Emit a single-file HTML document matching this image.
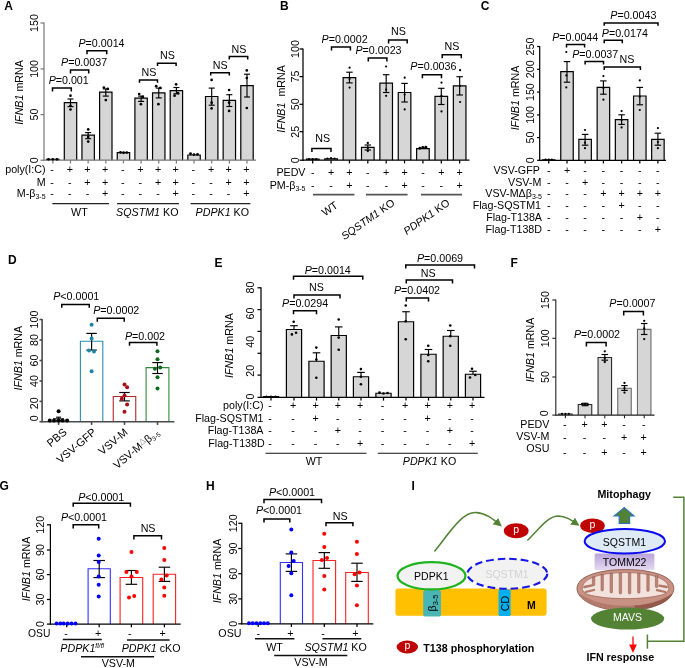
<!DOCTYPE html>
<html><head><meta charset="utf-8"><title>Figure</title>
<style>
html,body{margin:0;padding:0;background:#fff;}
svg{display:block;font-family:"Liberation Sans", Arial, sans-serif;will-change:transform;opacity:0.999;}
</style></head><body>
<svg width="685" height="668" viewBox="0 0 685 668">
<rect x="0" y="0" width="685" height="668" fill="#ffffff"/>
<text x="4.30" y="9.70" font-size="12" text-anchor="start" font-weight="bold" font-style="normal" fill="#000" >A</text>
<path d="M46.65,160.20 V159.40 H59.05 V160.20" fill="#d6d6d6" stroke="#000" stroke-width="1.2"/>
<path d="M64.30,160.20 V102.60 H76.70 V160.20" fill="#d6d6d6" stroke="#000" stroke-width="1.2"/>
<path d="M81.95,160.20 V135.20 H94.35 V160.20" fill="#d6d6d6" stroke="#000" stroke-width="1.2"/>
<path d="M99.60,160.20 V92.10 H112.00 V160.20" fill="#d6d6d6" stroke="#000" stroke-width="1.2"/>
<path d="M117.25,160.20 V152.60 H129.65 V160.20" fill="#d6d6d6" stroke="#000" stroke-width="1.2"/>
<path d="M134.90,160.20 V98.20 H147.30 V160.20" fill="#d6d6d6" stroke="#000" stroke-width="1.2"/>
<path d="M152.55,160.20 V92.80 H164.95 V160.20" fill="#d6d6d6" stroke="#000" stroke-width="1.2"/>
<path d="M170.20,160.20 V90.70 H182.60 V160.20" fill="#d6d6d6" stroke="#000" stroke-width="1.2"/>
<path d="M187.85,160.20 V155.00 H200.25 V160.20" fill="#d6d6d6" stroke="#000" stroke-width="1.2"/>
<path d="M205.50,160.20 V96.50 H217.90 V160.20" fill="#d6d6d6" stroke="#000" stroke-width="1.2"/>
<path d="M223.15,160.20 V100.30 H235.55 V160.20" fill="#d6d6d6" stroke="#000" stroke-width="1.2"/>
<path d="M240.80,160.20 V85.60 H253.20 V160.20" fill="#d6d6d6" stroke="#000" stroke-width="1.2"/>
<line x1="44.00" y1="22.50" x2="44.00" y2="160.70" stroke="#777" stroke-width="1.2" />
<line x1="43.50" y1="160.20" x2="256.00" y2="160.20" stroke="#777" stroke-width="1.2" />
<line x1="40.50" y1="23.00" x2="44.00" y2="23.00" stroke="#777" stroke-width="1.2" />
<text transform="translate(37.60,23.00) rotate(-90)" font-size="10.7" text-anchor="middle">150</text>
<line x1="40.50" y1="68.90" x2="44.00" y2="68.90" stroke="#777" stroke-width="1.2" />
<text transform="translate(37.60,68.90) rotate(-90)" font-size="10.7" text-anchor="middle">100</text>
<line x1="40.50" y1="114.60" x2="44.00" y2="114.60" stroke="#777" stroke-width="1.2" />
<text transform="translate(37.60,114.60) rotate(-90)" font-size="10.7" text-anchor="middle">50</text>
<line x1="40.50" y1="160.20" x2="44.00" y2="160.20" stroke="#777" stroke-width="1.2" />
<text transform="translate(37.60,160.20) rotate(-90)" font-size="10.7" text-anchor="middle">0</text>
<line x1="52.85" y1="160.20" x2="52.85" y2="163.40" stroke="#777" stroke-width="1.2" />
<line x1="70.50" y1="160.20" x2="70.50" y2="163.40" stroke="#777" stroke-width="1.2" />
<line x1="88.15" y1="160.20" x2="88.15" y2="163.40" stroke="#777" stroke-width="1.2" />
<line x1="105.80" y1="160.20" x2="105.80" y2="163.40" stroke="#777" stroke-width="1.2" />
<line x1="123.45" y1="160.20" x2="123.45" y2="163.40" stroke="#777" stroke-width="1.2" />
<line x1="141.10" y1="160.20" x2="141.10" y2="163.40" stroke="#777" stroke-width="1.2" />
<line x1="158.75" y1="160.20" x2="158.75" y2="163.40" stroke="#777" stroke-width="1.2" />
<line x1="176.40" y1="160.20" x2="176.40" y2="163.40" stroke="#777" stroke-width="1.2" />
<line x1="194.05" y1="160.20" x2="194.05" y2="163.40" stroke="#777" stroke-width="1.2" />
<line x1="211.70" y1="160.20" x2="211.70" y2="163.40" stroke="#777" stroke-width="1.2" />
<line x1="229.35" y1="160.20" x2="229.35" y2="163.40" stroke="#777" stroke-width="1.2" />
<line x1="247.00" y1="160.20" x2="247.00" y2="163.40" stroke="#777" stroke-width="1.2" />
<text transform="translate(22.50,92.50) rotate(-90)" font-size="10.7" text-anchor="middle"><tspan font-style="italic">IFNB1</tspan> mRNA</text>
<line x1="70.50" y1="99.00" x2="70.50" y2="106.60" stroke="#000" stroke-width="1.15" />
<line x1="67.50" y1="99.00" x2="73.50" y2="99.00" stroke="#000" stroke-width="1.15" />
<line x1="67.50" y1="106.60" x2="73.50" y2="106.60" stroke="#000" stroke-width="1.15" />
<line x1="88.15" y1="132.60" x2="88.15" y2="138.70" stroke="#000" stroke-width="1.15" />
<line x1="85.15" y1="132.60" x2="91.15" y2="132.60" stroke="#000" stroke-width="1.15" />
<line x1="85.15" y1="138.70" x2="91.15" y2="138.70" stroke="#000" stroke-width="1.15" />
<line x1="105.80" y1="88.90" x2="105.80" y2="96.10" stroke="#000" stroke-width="1.15" />
<line x1="102.80" y1="88.90" x2="108.80" y2="88.90" stroke="#000" stroke-width="1.15" />
<line x1="102.80" y1="96.10" x2="108.80" y2="96.10" stroke="#000" stroke-width="1.15" />
<line x1="141.10" y1="96.10" x2="141.10" y2="101.40" stroke="#000" stroke-width="1.15" />
<line x1="138.10" y1="96.10" x2="144.10" y2="96.10" stroke="#000" stroke-width="1.15" />
<line x1="138.10" y1="101.40" x2="144.10" y2="101.40" stroke="#000" stroke-width="1.15" />
<line x1="158.75" y1="88.10" x2="158.75" y2="97.90" stroke="#000" stroke-width="1.15" />
<line x1="155.75" y1="88.10" x2="161.75" y2="88.10" stroke="#000" stroke-width="1.15" />
<line x1="155.75" y1="97.90" x2="161.75" y2="97.90" stroke="#000" stroke-width="1.15" />
<line x1="176.40" y1="87.50" x2="176.40" y2="93.80" stroke="#000" stroke-width="1.15" />
<line x1="173.40" y1="87.50" x2="179.40" y2="87.50" stroke="#000" stroke-width="1.15" />
<line x1="173.40" y1="93.80" x2="179.40" y2="93.80" stroke="#000" stroke-width="1.15" />
<line x1="211.70" y1="88.10" x2="211.70" y2="105.20" stroke="#000" stroke-width="1.15" />
<line x1="208.70" y1="88.10" x2="214.70" y2="88.10" stroke="#000" stroke-width="1.15" />
<line x1="208.70" y1="105.20" x2="214.70" y2="105.20" stroke="#000" stroke-width="1.15" />
<line x1="229.35" y1="94.70" x2="229.35" y2="106.50" stroke="#000" stroke-width="1.15" />
<line x1="226.35" y1="94.70" x2="232.35" y2="94.70" stroke="#000" stroke-width="1.15" />
<line x1="226.35" y1="106.50" x2="232.35" y2="106.50" stroke="#000" stroke-width="1.15" />
<line x1="247.00" y1="74.20" x2="247.00" y2="97.00" stroke="#000" stroke-width="1.15" />
<line x1="244.00" y1="74.20" x2="250.00" y2="74.20" stroke="#000" stroke-width="1.15" />
<line x1="244.00" y1="97.00" x2="250.00" y2="97.00" stroke="#000" stroke-width="1.15" />
<circle cx="48.50" cy="159.30" r="1.35" fill="#000"/>
<circle cx="52.80" cy="159.30" r="1.35" fill="#000"/>
<circle cx="57.00" cy="159.30" r="1.35" fill="#000"/>
<circle cx="70.50" cy="95.70" r="1.35" fill="#000"/>
<circle cx="70.50" cy="105.80" r="1.35" fill="#000"/>
<circle cx="70.50" cy="109.50" r="1.35" fill="#000"/>
<circle cx="88.20" cy="129.40" r="1.35" fill="#000"/>
<circle cx="88.20" cy="137.00" r="1.35" fill="#000"/>
<circle cx="88.20" cy="141.60" r="1.35" fill="#000"/>
<circle cx="103.90" cy="87.60" r="1.35" fill="#000"/>
<circle cx="107.80" cy="88.90" r="1.35" fill="#000"/>
<circle cx="105.80" cy="100.10" r="1.35" fill="#000"/>
<circle cx="120.50" cy="152.40" r="1.45" fill="#000"/>
<circle cx="123.60" cy="152.80" r="1.45" fill="#000"/>
<circle cx="126.80" cy="152.60" r="1.45" fill="#000"/>
<circle cx="139.20" cy="94.00" r="1.35" fill="#000"/>
<circle cx="142.80" cy="96.90" r="1.35" fill="#000"/>
<circle cx="140.90" cy="104.20" r="1.35" fill="#000"/>
<circle cx="156.20" cy="86.20" r="1.35" fill="#000"/>
<circle cx="160.30" cy="87.90" r="1.35" fill="#000"/>
<circle cx="158.40" cy="104.20" r="1.35" fill="#000"/>
<circle cx="176.10" cy="84.30" r="1.35" fill="#000"/>
<circle cx="174.60" cy="95.70" r="1.35" fill="#000"/>
<circle cx="178.00" cy="93.20" r="1.35" fill="#000"/>
<circle cx="190.50" cy="153.80" r="1.45" fill="#000"/>
<circle cx="194.00" cy="154.60" r="1.45" fill="#000"/>
<circle cx="197.50" cy="154.40" r="1.45" fill="#000"/>
<circle cx="211.60" cy="79.90" r="1.35" fill="#000"/>
<circle cx="211.60" cy="102.70" r="1.35" fill="#000"/>
<circle cx="211.60" cy="108.40" r="1.35" fill="#000"/>
<circle cx="229.10" cy="90.00" r="1.35" fill="#000"/>
<circle cx="229.10" cy="102.70" r="1.35" fill="#000"/>
<circle cx="229.10" cy="110.90" r="1.35" fill="#000"/>
<circle cx="246.80" cy="70.40" r="1.35" fill="#000"/>
<circle cx="246.80" cy="78.00" r="1.35" fill="#000"/>
<circle cx="246.80" cy="108.00" r="1.35" fill="#000"/>
<path d="M52.50,91.50 V88.10 H71.30 V91.50" fill="none" stroke="#000" stroke-width="1.5"/>
<text x="68.70" y="84.10" font-size="10.7" text-anchor="middle" font-weight="normal" font-style="normal" fill="#000" ><tspan font-style="italic">P</tspan>=0.001</text>
<path d="M70.50,73.40 V70.00 H88.70 V73.40" fill="none" stroke="#000" stroke-width="1.5"/>
<text x="84.10" y="65.50" font-size="10.7" text-anchor="middle" font-weight="normal" font-style="normal" fill="#000" ><tspan font-style="italic">P</tspan>=0.0037</text>
<path d="M87.00,54.15 V50.75 H106.75 V54.15" fill="none" stroke="#000" stroke-width="1.5"/>
<text x="101.50" y="46.75" font-size="10.7" text-anchor="middle" font-weight="normal" font-style="normal" fill="#000" ><tspan font-style="italic">P</tspan>=0.0014</text>
<path d="M139.50,82.80 V80.00 H157.50 V82.80" fill="none" stroke="#000" stroke-width="1.5"/>
<text x="149.00" y="76.25" font-size="10.7" text-anchor="middle" font-weight="normal" font-style="normal" fill="#000" >NS</text>
<path d="M157.50,66.00 V63.20 H176.10 V66.00" fill="none" stroke="#000" stroke-width="1.5"/>
<text x="167.50" y="58.70" font-size="10.7" text-anchor="middle" font-weight="normal" font-style="normal" fill="#000" >NS</text>
<path d="M210.70,75.50 V72.70 H229.30 V75.50" fill="none" stroke="#000" stroke-width="1.5"/>
<text x="220.20" y="68.75" font-size="10.7" text-anchor="middle" font-weight="normal" font-style="normal" fill="#000" >NS</text>
<path d="M229.30,59.40 V56.60 H247.70 V59.40" fill="none" stroke="#000" stroke-width="1.5"/>
<text x="239.00" y="53.00" font-size="10.7" text-anchor="middle" font-weight="normal" font-style="normal" fill="#000" >NS</text>
<text x="45.60" y="173.20" font-size="10.7" text-anchor="end" font-weight="normal" font-style="normal" fill="#000" >poly(I:C)</text>
<text x="45.60" y="185.80" font-size="10.7" text-anchor="end" font-weight="normal" font-style="normal" fill="#000" >M</text>
<text x="45.60" y="197.20" font-size="10.7" text-anchor="end" font-weight="normal" font-style="normal" fill="#000" >M-β<tspan font-size="7" dy="2">3-5</tspan></text>
<text x="52.15" y="173.00" font-size="10.7" text-anchor="middle" font-weight="normal" font-style="normal" fill="#000" >-</text>
<text x="69.80" y="173.00" font-size="10.7" text-anchor="middle" font-weight="normal" font-style="normal" fill="#000" >+</text>
<text x="87.45" y="173.00" font-size="10.7" text-anchor="middle" font-weight="normal" font-style="normal" fill="#000" >+</text>
<text x="105.10" y="173.00" font-size="10.7" text-anchor="middle" font-weight="normal" font-style="normal" fill="#000" >+</text>
<text x="122.75" y="173.00" font-size="10.7" text-anchor="middle" font-weight="normal" font-style="normal" fill="#000" >-</text>
<text x="140.40" y="173.00" font-size="10.7" text-anchor="middle" font-weight="normal" font-style="normal" fill="#000" >+</text>
<text x="158.05" y="173.00" font-size="10.7" text-anchor="middle" font-weight="normal" font-style="normal" fill="#000" >+</text>
<text x="175.70" y="173.00" font-size="10.7" text-anchor="middle" font-weight="normal" font-style="normal" fill="#000" >+</text>
<text x="193.35" y="173.00" font-size="10.7" text-anchor="middle" font-weight="normal" font-style="normal" fill="#000" >-</text>
<text x="211.00" y="173.00" font-size="10.7" text-anchor="middle" font-weight="normal" font-style="normal" fill="#000" >+</text>
<text x="228.65" y="173.00" font-size="10.7" text-anchor="middle" font-weight="normal" font-style="normal" fill="#000" >+</text>
<text x="246.30" y="173.00" font-size="10.7" text-anchor="middle" font-weight="normal" font-style="normal" fill="#000" >+</text>
<text x="52.15" y="185.90" font-size="10.7" text-anchor="middle" font-weight="normal" font-style="normal" fill="#000" >-</text>
<text x="69.80" y="185.90" font-size="10.7" text-anchor="middle" font-weight="normal" font-style="normal" fill="#000" >-</text>
<text x="87.45" y="185.90" font-size="10.7" text-anchor="middle" font-weight="normal" font-style="normal" fill="#000" >+</text>
<text x="105.10" y="185.90" font-size="10.7" text-anchor="middle" font-weight="normal" font-style="normal" fill="#000" >+</text>
<text x="122.75" y="185.90" font-size="10.7" text-anchor="middle" font-weight="normal" font-style="normal" fill="#000" >-</text>
<text x="140.40" y="185.90" font-size="10.7" text-anchor="middle" font-weight="normal" font-style="normal" fill="#000" >-</text>
<text x="158.05" y="185.90" font-size="10.7" text-anchor="middle" font-weight="normal" font-style="normal" fill="#000" >+</text>
<text x="175.70" y="185.90" font-size="10.7" text-anchor="middle" font-weight="normal" font-style="normal" fill="#000" >+</text>
<text x="193.35" y="185.90" font-size="10.7" text-anchor="middle" font-weight="normal" font-style="normal" fill="#000" >-</text>
<text x="211.00" y="185.90" font-size="10.7" text-anchor="middle" font-weight="normal" font-style="normal" fill="#000" >-</text>
<text x="228.65" y="185.90" font-size="10.7" text-anchor="middle" font-weight="normal" font-style="normal" fill="#000" >+</text>
<text x="246.30" y="185.90" font-size="10.7" text-anchor="middle" font-weight="normal" font-style="normal" fill="#000" >+</text>
<text x="52.15" y="197.30" font-size="10.7" text-anchor="middle" font-weight="normal" font-style="normal" fill="#000" >-</text>
<text x="69.80" y="197.30" font-size="10.7" text-anchor="middle" font-weight="normal" font-style="normal" fill="#000" >-</text>
<text x="87.45" y="197.30" font-size="10.7" text-anchor="middle" font-weight="normal" font-style="normal" fill="#000" >-</text>
<text x="105.10" y="197.30" font-size="10.7" text-anchor="middle" font-weight="normal" font-style="normal" fill="#000" >+</text>
<text x="122.75" y="197.30" font-size="10.7" text-anchor="middle" font-weight="normal" font-style="normal" fill="#000" >-</text>
<text x="140.40" y="197.30" font-size="10.7" text-anchor="middle" font-weight="normal" font-style="normal" fill="#000" >-</text>
<text x="158.05" y="197.30" font-size="10.7" text-anchor="middle" font-weight="normal" font-style="normal" fill="#000" >-</text>
<text x="175.70" y="197.30" font-size="10.7" text-anchor="middle" font-weight="normal" font-style="normal" fill="#000" >+</text>
<text x="193.35" y="197.30" font-size="10.7" text-anchor="middle" font-weight="normal" font-style="normal" fill="#000" >-</text>
<text x="211.00" y="197.30" font-size="10.7" text-anchor="middle" font-weight="normal" font-style="normal" fill="#000" >-</text>
<text x="228.65" y="197.30" font-size="10.7" text-anchor="middle" font-weight="normal" font-style="normal" fill="#000" >-</text>
<text x="246.30" y="197.30" font-size="10.7" text-anchor="middle" font-weight="normal" font-style="normal" fill="#000" >+</text>
<line x1="52.40" y1="203.60" x2="109.00" y2="203.60" stroke="#222" stroke-width="1.4" />
<line x1="117.00" y1="203.60" x2="179.00" y2="203.60" stroke="#222" stroke-width="1.4" />
<line x1="190.60" y1="203.60" x2="250.40" y2="203.60" stroke="#222" stroke-width="1.4" />
<text x="79.40" y="215.60" font-size="10.7" text-anchor="middle" font-weight="normal" font-style="normal" fill="#000" >WT</text>
<text x="147.30" y="215.60" font-size="10.7" text-anchor="middle" font-weight="normal" font-style="normal" fill="#000" ><tspan font-style="italic">SQSTM1</tspan> KO</text>
<text x="222.30" y="215.60" font-size="10.7" text-anchor="middle" font-weight="normal" font-style="normal" fill="#000" ><tspan font-style="italic">PDPK1</tspan> KO</text>
<text x="280.00" y="10.20" font-size="12" text-anchor="start" font-weight="bold" font-style="normal" fill="#000" >B</text>
<path d="M306.40,160.20 V159.20 H319.00 V160.20" fill="#d6d6d6" stroke="#000" stroke-width="1.2"/>
<path d="M324.77,160.20 V158.80 H337.37 V160.20" fill="#d6d6d6" stroke="#000" stroke-width="1.2"/>
<path d="M343.14,160.20 V77.60 H355.74 V160.20" fill="#d6d6d6" stroke="#000" stroke-width="1.2"/>
<path d="M361.51,160.20 V147.40 H374.11 V160.20" fill="#d6d6d6" stroke="#000" stroke-width="1.2"/>
<path d="M379.88,160.20 V83.20 H392.48 V160.20" fill="#d6d6d6" stroke="#000" stroke-width="1.2"/>
<path d="M398.25,160.20 V92.50 H410.85 V160.20" fill="#d6d6d6" stroke="#000" stroke-width="1.2"/>
<path d="M416.62,160.20 V148.60 H429.22 V160.20" fill="#d6d6d6" stroke="#000" stroke-width="1.2"/>
<path d="M434.99,160.20 V96.30 H447.59 V160.20" fill="#d6d6d6" stroke="#000" stroke-width="1.2"/>
<path d="M453.36,160.20 V85.80 H465.96 V160.20" fill="#d6d6d6" stroke="#000" stroke-width="1.2"/>
<line x1="303.00" y1="48.50" x2="303.00" y2="160.70" stroke="#000" stroke-width="1.25" />
<line x1="302.50" y1="160.20" x2="469.50" y2="160.20" stroke="#000" stroke-width="1.25" />
<line x1="299.50" y1="49.00" x2="303.00" y2="49.00" stroke="#000" stroke-width="1.25" />
<text transform="translate(298.50,49.00) rotate(-90)" font-size="10.7" text-anchor="middle">100</text>
<line x1="299.50" y1="76.60" x2="303.00" y2="76.60" stroke="#000" stroke-width="1.25" />
<text transform="translate(298.50,76.60) rotate(-90)" font-size="10.7" text-anchor="middle">75</text>
<line x1="299.50" y1="104.30" x2="303.00" y2="104.30" stroke="#000" stroke-width="1.25" />
<text transform="translate(298.50,104.30) rotate(-90)" font-size="10.7" text-anchor="middle">50</text>
<line x1="299.50" y1="131.70" x2="303.00" y2="131.70" stroke="#000" stroke-width="1.25" />
<text transform="translate(298.50,131.70) rotate(-90)" font-size="10.7" text-anchor="middle">25</text>
<line x1="299.50" y1="160.20" x2="303.00" y2="160.20" stroke="#000" stroke-width="1.25" />
<text transform="translate(298.50,160.20) rotate(-90)" font-size="10.7" text-anchor="middle">0</text>
<line x1="312.70" y1="160.20" x2="312.70" y2="163.40" stroke="#000" stroke-width="1.25" />
<line x1="331.07" y1="160.20" x2="331.07" y2="163.40" stroke="#000" stroke-width="1.25" />
<line x1="349.44" y1="160.20" x2="349.44" y2="163.40" stroke="#000" stroke-width="1.25" />
<line x1="367.81" y1="160.20" x2="367.81" y2="163.40" stroke="#000" stroke-width="1.25" />
<line x1="386.18" y1="160.20" x2="386.18" y2="163.40" stroke="#000" stroke-width="1.25" />
<line x1="404.55" y1="160.20" x2="404.55" y2="163.40" stroke="#000" stroke-width="1.25" />
<line x1="422.92" y1="160.20" x2="422.92" y2="163.40" stroke="#000" stroke-width="1.25" />
<line x1="441.29" y1="160.20" x2="441.29" y2="163.40" stroke="#000" stroke-width="1.25" />
<line x1="459.66" y1="160.20" x2="459.66" y2="163.40" stroke="#000" stroke-width="1.25" />
<text transform="translate(284.50,99.00) rotate(-90)" font-size="10.7" text-anchor="middle"><tspan font-style="italic">IFNB1</tspan>&#160;&#160;mRNA</text>
<line x1="349.44" y1="72.20" x2="349.44" y2="82.90" stroke="#000" stroke-width="1.15" />
<line x1="346.19" y1="72.20" x2="352.69" y2="72.20" stroke="#000" stroke-width="1.15" />
<line x1="346.19" y1="82.90" x2="352.69" y2="82.90" stroke="#000" stroke-width="1.15" />
<line x1="367.81" y1="145.00" x2="367.81" y2="150.00" stroke="#000" stroke-width="1.15" />
<line x1="364.56" y1="145.00" x2="371.06" y2="145.00" stroke="#000" stroke-width="1.15" />
<line x1="364.56" y1="150.00" x2="371.06" y2="150.00" stroke="#000" stroke-width="1.15" />
<line x1="386.18" y1="74.70" x2="386.18" y2="92.50" stroke="#000" stroke-width="1.15" />
<line x1="382.93" y1="74.70" x2="389.43" y2="74.70" stroke="#000" stroke-width="1.15" />
<line x1="382.93" y1="92.50" x2="389.43" y2="92.50" stroke="#000" stroke-width="1.15" />
<line x1="404.55" y1="83.40" x2="404.55" y2="102.00" stroke="#000" stroke-width="1.15" />
<line x1="401.30" y1="83.40" x2="407.80" y2="83.40" stroke="#000" stroke-width="1.15" />
<line x1="401.30" y1="102.00" x2="407.80" y2="102.00" stroke="#000" stroke-width="1.15" />
<line x1="441.29" y1="88.30" x2="441.29" y2="104.50" stroke="#000" stroke-width="1.15" />
<line x1="438.04" y1="88.30" x2="444.54" y2="88.30" stroke="#000" stroke-width="1.15" />
<line x1="438.04" y1="104.50" x2="444.54" y2="104.50" stroke="#000" stroke-width="1.15" />
<line x1="459.66" y1="76.70" x2="459.66" y2="95.00" stroke="#000" stroke-width="1.15" />
<line x1="456.41" y1="76.70" x2="462.91" y2="76.70" stroke="#000" stroke-width="1.15" />
<line x1="456.41" y1="95.00" x2="462.91" y2="95.00" stroke="#000" stroke-width="1.15" />
<circle cx="309.00" cy="159.20" r="1.15" fill="#000"/>
<circle cx="312.70" cy="159.20" r="1.15" fill="#000"/>
<circle cx="316.20" cy="159.20" r="1.15" fill="#000"/>
<circle cx="327.50" cy="158.50" r="1.1" fill="#000"/>
<circle cx="331.00" cy="158.20" r="1.1" fill="#000"/>
<circle cx="334.50" cy="158.60" r="1.1" fill="#000"/>
<circle cx="349.60" cy="67.70" r="1.1" fill="#000"/>
<circle cx="349.60" cy="78.90" r="1.1" fill="#000"/>
<circle cx="349.60" cy="87.60" r="1.1" fill="#000"/>
<circle cx="367.80" cy="143.00" r="1.15" fill="#000"/>
<circle cx="367.80" cy="147.90" r="1.15" fill="#000"/>
<circle cx="367.80" cy="151.00" r="1.15" fill="#000"/>
<circle cx="386.10" cy="66.50" r="1.1" fill="#000"/>
<circle cx="386.10" cy="89.60" r="1.1" fill="#000"/>
<circle cx="386.10" cy="95.80" r="1.1" fill="#000"/>
<circle cx="404.70" cy="77.70" r="1.1" fill="#000"/>
<circle cx="404.70" cy="94.50" r="1.1" fill="#000"/>
<circle cx="404.70" cy="109.40" r="1.1" fill="#000"/>
<circle cx="419.80" cy="148.20" r="1.45" fill="#000"/>
<circle cx="422.80" cy="147.40" r="1.45" fill="#000"/>
<circle cx="425.80" cy="147.20" r="1.45" fill="#000"/>
<circle cx="441.50" cy="82.60" r="1.1" fill="#000"/>
<circle cx="441.50" cy="95.80" r="1.1" fill="#000"/>
<circle cx="441.50" cy="111.40" r="1.1" fill="#000"/>
<circle cx="460.10" cy="70.20" r="1.1" fill="#000"/>
<circle cx="460.10" cy="85.80" r="1.1" fill="#000"/>
<circle cx="460.10" cy="102.00" r="1.1" fill="#000"/>
<path d="M311.90,152.00 V148.60 H331.00 V152.00" fill="none" stroke="#000" stroke-width="1.5"/>
<text x="322.80" y="141.70" font-size="10.7" text-anchor="middle" font-weight="normal" font-style="normal" fill="#000" >NS</text>
<path d="M331.50,50.50 V46.90 H350.40 V50.50" fill="none" stroke="#000" stroke-width="1.5"/>
<text x="344.60" y="42.90" font-size="10.7" text-anchor="middle" font-weight="normal" font-style="normal" fill="#000" ><tspan font-style="italic">P</tspan>=0.0002</text>
<path d="M368.30,61.60 V58.00 H386.90 V61.60" fill="none" stroke="#000" stroke-width="1.5"/>
<text x="378.50" y="54.10" font-size="10.7" text-anchor="middle" font-weight="normal" font-style="normal" fill="#000" ><tspan font-style="italic">P</tspan>=0.0023</text>
<path d="M388.60,43.50 V39.90 H407.20 V43.50" fill="none" stroke="#000" stroke-width="1.5"/>
<text x="398.50" y="34.50" font-size="10.7" text-anchor="middle" font-weight="normal" font-style="normal" fill="#000" >NS</text>
<path d="M422.40,78.30 V74.70 H441.50 V78.30" fill="none" stroke="#000" stroke-width="1.5"/>
<text x="433.40" y="69.70" font-size="10.7" text-anchor="middle" font-weight="normal" font-style="normal" fill="#000" ><tspan font-style="italic">P</tspan>=0.0036</text>
<path d="M442.20,58.20 V54.80 H461.30 V58.20" fill="none" stroke="#000" stroke-width="1.5"/>
<text x="451.90" y="49.90" font-size="10.7" text-anchor="middle" font-weight="normal" font-style="normal" fill="#000" >NS</text>
<text x="305.50" y="176.00" font-size="10.7" text-anchor="end" font-weight="normal" font-style="normal" fill="#000" >PEDV</text>
<text x="305.50" y="189.20" font-size="10.7" text-anchor="end" font-weight="normal" font-style="normal" fill="#000" >PM-β<tspan font-size="7" dy="2">3-5</tspan></text>
<text x="312.70" y="176.00" font-size="10.7" text-anchor="middle" font-weight="normal" font-style="normal" fill="#000" >-</text>
<text x="331.07" y="176.00" font-size="10.7" text-anchor="middle" font-weight="normal" font-style="normal" fill="#000" >+</text>
<text x="349.44" y="176.00" font-size="10.7" text-anchor="middle" font-weight="normal" font-style="normal" fill="#000" >+</text>
<text x="367.81" y="176.00" font-size="10.7" text-anchor="middle" font-weight="normal" font-style="normal" fill="#000" >-</text>
<text x="386.18" y="176.00" font-size="10.7" text-anchor="middle" font-weight="normal" font-style="normal" fill="#000" >+</text>
<text x="404.55" y="176.00" font-size="10.7" text-anchor="middle" font-weight="normal" font-style="normal" fill="#000" >+</text>
<text x="422.92" y="176.00" font-size="10.7" text-anchor="middle" font-weight="normal" font-style="normal" fill="#000" >-</text>
<text x="441.29" y="176.00" font-size="10.7" text-anchor="middle" font-weight="normal" font-style="normal" fill="#000" >+</text>
<text x="459.66" y="176.00" font-size="10.7" text-anchor="middle" font-weight="normal" font-style="normal" fill="#000" >+</text>
<text x="312.70" y="189.20" font-size="10.7" text-anchor="middle" font-weight="normal" font-style="normal" fill="#000" >-</text>
<text x="331.07" y="189.20" font-size="10.7" text-anchor="middle" font-weight="normal" font-style="normal" fill="#000" >-</text>
<text x="349.44" y="189.20" font-size="10.7" text-anchor="middle" font-weight="normal" font-style="normal" fill="#000" >+</text>
<text x="367.81" y="189.20" font-size="10.7" text-anchor="middle" font-weight="normal" font-style="normal" fill="#000" >-</text>
<text x="386.18" y="189.20" font-size="10.7" text-anchor="middle" font-weight="normal" font-style="normal" fill="#000" >-</text>
<text x="404.55" y="189.20" font-size="10.7" text-anchor="middle" font-weight="normal" font-style="normal" fill="#000" >+</text>
<text x="422.92" y="189.20" font-size="10.7" text-anchor="middle" font-weight="normal" font-style="normal" fill="#000" >-</text>
<text x="441.29" y="189.20" font-size="10.7" text-anchor="middle" font-weight="normal" font-style="normal" fill="#000" >-</text>
<text x="459.66" y="189.20" font-size="10.7" text-anchor="middle" font-weight="normal" font-style="normal" fill="#000" >+</text>
<line x1="313.00" y1="194.60" x2="354.40" y2="194.60" stroke="#555" stroke-width="1.7" />
<line x1="366.00" y1="194.60" x2="407.60" y2="194.60" stroke="#555" stroke-width="1.7" />
<line x1="421.00" y1="194.60" x2="462.00" y2="194.60" stroke="#555" stroke-width="1.7" />
<text transform="translate(338.50,207.00) rotate(-35)" font-size="10.7" text-anchor="end">WT</text>
<text transform="translate(395.50,204.50) rotate(-35)" font-size="10.7" text-anchor="end"><tspan font-style="italic">SQSTM1</tspan> KO</text>
<text transform="translate(450.50,204.50) rotate(-35)" font-size="10.7" text-anchor="end"><tspan font-style="italic">PDPK1</tspan> KO</text>
<text x="480.70" y="10.20" font-size="12" text-anchor="start" font-weight="bold" font-style="normal" fill="#000" >C</text>
<path d="M542.45,160.30 V159.80 H554.95 V160.30" fill="#d6d6d6" stroke="#000" stroke-width="1.2"/>
<path d="M560.75,160.30 V71.60 H573.25 V160.30" fill="#d6d6d6" stroke="#000" stroke-width="1.2"/>
<path d="M578.85,160.30 V139.40 H591.35 V160.30" fill="#d6d6d6" stroke="#000" stroke-width="1.2"/>
<path d="M597.15,160.30 V87.40 H609.65 V160.30" fill="#d6d6d6" stroke="#000" stroke-width="1.2"/>
<path d="M615.35,160.30 V119.60 H627.85 V160.30" fill="#d6d6d6" stroke="#000" stroke-width="1.2"/>
<path d="M633.55,160.30 V96.00 H646.05 V160.30" fill="#d6d6d6" stroke="#000" stroke-width="1.2"/>
<path d="M651.65,160.30 V139.40 H664.15 V160.30" fill="#d6d6d6" stroke="#000" stroke-width="1.2"/>
<line x1="539.70" y1="46.00" x2="539.70" y2="160.80" stroke="#000" stroke-width="1.25" />
<line x1="539.20" y1="160.30" x2="666.00" y2="160.30" stroke="#000" stroke-width="1.25" />
<line x1="537.10" y1="46.50" x2="539.70" y2="46.50" stroke="#000" stroke-width="1.25" />
<text transform="translate(534.40,46.50) rotate(-90)" font-size="10.7" text-anchor="middle">250</text>
<line x1="537.10" y1="69.30" x2="539.70" y2="69.30" stroke="#000" stroke-width="1.25" />
<text transform="translate(534.40,69.30) rotate(-90)" font-size="10.7" text-anchor="middle">200</text>
<line x1="537.10" y1="92.10" x2="539.70" y2="92.10" stroke="#000" stroke-width="1.25" />
<text transform="translate(534.40,92.10) rotate(-90)" font-size="10.7" text-anchor="middle">150</text>
<line x1="537.10" y1="114.90" x2="539.70" y2="114.90" stroke="#000" stroke-width="1.25" />
<text transform="translate(534.40,114.90) rotate(-90)" font-size="10.7" text-anchor="middle">100</text>
<line x1="537.10" y1="137.60" x2="539.70" y2="137.60" stroke="#000" stroke-width="1.25" />
<text transform="translate(534.40,137.60) rotate(-90)" font-size="10.7" text-anchor="middle">50</text>
<line x1="537.10" y1="160.30" x2="539.70" y2="160.30" stroke="#000" stroke-width="1.25" />
<text transform="translate(534.40,160.30) rotate(-90)" font-size="10.7" text-anchor="middle">0</text>
<line x1="548.70" y1="160.30" x2="548.70" y2="163.50" stroke="#000" stroke-width="1.25" />
<line x1="567.00" y1="160.30" x2="567.00" y2="163.50" stroke="#000" stroke-width="1.25" />
<line x1="585.10" y1="160.30" x2="585.10" y2="163.50" stroke="#000" stroke-width="1.25" />
<line x1="603.40" y1="160.30" x2="603.40" y2="163.50" stroke="#000" stroke-width="1.25" />
<line x1="621.60" y1="160.30" x2="621.60" y2="163.50" stroke="#000" stroke-width="1.25" />
<line x1="639.80" y1="160.30" x2="639.80" y2="163.50" stroke="#000" stroke-width="1.25" />
<line x1="657.90" y1="160.30" x2="657.90" y2="163.50" stroke="#000" stroke-width="1.25" />
<text transform="translate(519.30,98.00) rotate(-90)" font-size="10.7" text-anchor="middle"><tspan font-style="italic">IFNB1</tspan> mRNA</text>
<line x1="567.00" y1="61.60" x2="567.00" y2="82.20" stroke="#000" stroke-width="1.15" />
<line x1="563.75" y1="61.60" x2="570.25" y2="61.60" stroke="#000" stroke-width="1.15" />
<line x1="563.75" y1="82.20" x2="570.25" y2="82.20" stroke="#000" stroke-width="1.15" />
<line x1="585.10" y1="134.40" x2="585.10" y2="145.20" stroke="#000" stroke-width="1.15" />
<line x1="581.85" y1="134.40" x2="588.35" y2="134.40" stroke="#000" stroke-width="1.15" />
<line x1="581.85" y1="145.20" x2="588.35" y2="145.20" stroke="#000" stroke-width="1.15" />
<line x1="603.40" y1="80.90" x2="603.40" y2="94.20" stroke="#000" stroke-width="1.15" />
<line x1="600.15" y1="80.90" x2="606.65" y2="80.90" stroke="#000" stroke-width="1.15" />
<line x1="600.15" y1="94.20" x2="606.65" y2="94.20" stroke="#000" stroke-width="1.15" />
<line x1="621.60" y1="114.80" x2="621.60" y2="124.40" stroke="#000" stroke-width="1.15" />
<line x1="618.35" y1="114.80" x2="624.85" y2="114.80" stroke="#000" stroke-width="1.15" />
<line x1="618.35" y1="124.40" x2="624.85" y2="124.40" stroke="#000" stroke-width="1.15" />
<line x1="639.80" y1="87.40" x2="639.80" y2="104.80" stroke="#000" stroke-width="1.15" />
<line x1="636.55" y1="87.40" x2="643.05" y2="87.40" stroke="#000" stroke-width="1.15" />
<line x1="636.55" y1="104.80" x2="643.05" y2="104.80" stroke="#000" stroke-width="1.15" />
<line x1="657.90" y1="133.20" x2="657.90" y2="145.20" stroke="#000" stroke-width="1.15" />
<line x1="654.65" y1="133.20" x2="661.15" y2="133.20" stroke="#000" stroke-width="1.15" />
<line x1="654.65" y1="145.20" x2="661.15" y2="145.20" stroke="#000" stroke-width="1.15" />
<circle cx="545.50" cy="159.60" r="1.1" fill="#000"/>
<circle cx="548.70" cy="159.60" r="1.1" fill="#000"/>
<circle cx="551.80" cy="159.60" r="1.1" fill="#000"/>
<circle cx="566.30" cy="52.00" r="1.1" fill="#000"/>
<circle cx="566.30" cy="75.40" r="1.1" fill="#000"/>
<circle cx="566.30" cy="87.40" r="1.1" fill="#000"/>
<circle cx="585.00" cy="130.00" r="1.1" fill="#000"/>
<circle cx="585.00" cy="142.70" r="1.1" fill="#000"/>
<circle cx="585.00" cy="148.20" r="1.1" fill="#000"/>
<circle cx="603.40" cy="76.10" r="1.1" fill="#000"/>
<circle cx="603.40" cy="88.00" r="1.1" fill="#000"/>
<circle cx="603.40" cy="99.70" r="1.1" fill="#000"/>
<circle cx="621.60" cy="111.00" r="1.1" fill="#000"/>
<circle cx="621.60" cy="120.00" r="1.1" fill="#000"/>
<circle cx="621.60" cy="127.40" r="1.1" fill="#000"/>
<circle cx="639.80" cy="80.40" r="1.1" fill="#000"/>
<circle cx="639.80" cy="96.70" r="1.1" fill="#000"/>
<circle cx="639.80" cy="110.00" r="1.1" fill="#000"/>
<circle cx="657.90" cy="128.10" r="1.1" fill="#000"/>
<circle cx="657.90" cy="142.00" r="1.1" fill="#000"/>
<circle cx="657.90" cy="148.20" r="1.1" fill="#000"/>
<path d="M604.20,25.70 V23.10 H658.00 V25.70" fill="none" stroke="#000" stroke-width="1.5"/>
<text x="633.30" y="18.80" font-size="10.7" text-anchor="middle" font-weight="normal" font-style="normal" fill="#000" ><tspan font-style="italic">P</tspan>=0.0043</text>
<path d="M566.50,47.50 V44.50 H584.60 V47.50" fill="none" stroke="#000" stroke-width="1.5"/>
<text x="575.20" y="41.00" font-size="10.7" text-anchor="middle" font-weight="normal" font-style="normal" fill="#000" ><tspan font-style="italic">P</tspan>=0.0044</text>
<path d="M604.20,43.20 V40.20 H622.30 V43.20" fill="none" stroke="#000" stroke-width="1.5"/>
<text x="624.80" y="36.90" font-size="10.7" text-anchor="middle" font-weight="normal" font-style="normal" fill="#000" ><tspan font-style="italic">P</tspan>=0.0174</text>
<path d="M585.10,64.60 V61.60 H603.50 V64.60" fill="none" stroke="#000" stroke-width="1.5"/>
<text x="595.20" y="58.30" font-size="10.7" text-anchor="middle" font-weight="normal" font-style="normal" fill="#000" ><tspan font-style="italic">P</tspan>=0.0037</text>
<path d="M604.20,69.90 V67.10 H640.40 V69.90" fill="none" stroke="#000" stroke-width="1.5"/>
<text x="627.00" y="62.80" font-size="10.7" text-anchor="middle" font-weight="normal" font-style="normal" fill="#000" >NS</text>
<text x="539.80" y="173.60" font-size="10.7" text-anchor="end" font-weight="normal" font-style="normal" fill="#000" >VSV-GFP</text>
<text x="548.70" y="173.60" font-size="10.7" text-anchor="middle" font-weight="normal" font-style="normal" fill="#000" >-</text>
<text x="567.00" y="173.60" font-size="10.7" text-anchor="middle" font-weight="normal" font-style="normal" fill="#000" >+</text>
<text x="585.10" y="173.60" font-size="10.7" text-anchor="middle" font-weight="normal" font-style="normal" fill="#000" >-</text>
<text x="603.40" y="173.60" font-size="10.7" text-anchor="middle" font-weight="normal" font-style="normal" fill="#000" >-</text>
<text x="621.60" y="173.60" font-size="10.7" text-anchor="middle" font-weight="normal" font-style="normal" fill="#000" >-</text>
<text x="639.80" y="173.60" font-size="10.7" text-anchor="middle" font-weight="normal" font-style="normal" fill="#000" >-</text>
<text x="657.90" y="173.60" font-size="10.7" text-anchor="middle" font-weight="normal" font-style="normal" fill="#000" >-</text>
<text x="541.30" y="185.50" font-size="10.7" text-anchor="end" font-weight="normal" font-style="normal" fill="#000" >VSV-M</text>
<text x="548.70" y="185.50" font-size="10.7" text-anchor="middle" font-weight="normal" font-style="normal" fill="#000" >-</text>
<text x="567.00" y="185.50" font-size="10.7" text-anchor="middle" font-weight="normal" font-style="normal" fill="#000" >-</text>
<text x="585.10" y="185.50" font-size="10.7" text-anchor="middle" font-weight="normal" font-style="normal" fill="#000" >+</text>
<text x="603.40" y="185.50" font-size="10.7" text-anchor="middle" font-weight="normal" font-style="normal" fill="#000" >-</text>
<text x="621.60" y="185.50" font-size="10.7" text-anchor="middle" font-weight="normal" font-style="normal" fill="#000" >-</text>
<text x="639.80" y="185.50" font-size="10.7" text-anchor="middle" font-weight="normal" font-style="normal" fill="#000" >-</text>
<text x="657.90" y="185.50" font-size="10.7" text-anchor="middle" font-weight="normal" font-style="normal" fill="#000" >-</text>
<text x="542.00" y="197.40" font-size="10.7" text-anchor="end" font-weight="normal" font-style="normal" fill="#000" >VSV-MΔβ<tspan font-size="7" dy="2">3-5</tspan></text>
<text x="548.70" y="197.40" font-size="10.7" text-anchor="middle" font-weight="normal" font-style="normal" fill="#000" >-</text>
<text x="567.00" y="197.40" font-size="10.7" text-anchor="middle" font-weight="normal" font-style="normal" fill="#000" >-</text>
<text x="585.10" y="197.40" font-size="10.7" text-anchor="middle" font-weight="normal" font-style="normal" fill="#000" >-</text>
<text x="603.40" y="197.40" font-size="10.7" text-anchor="middle" font-weight="normal" font-style="normal" fill="#000" >+</text>
<text x="621.60" y="197.40" font-size="10.7" text-anchor="middle" font-weight="normal" font-style="normal" fill="#000" >+</text>
<text x="639.80" y="197.40" font-size="10.7" text-anchor="middle" font-weight="normal" font-style="normal" fill="#000" >+</text>
<text x="657.90" y="197.40" font-size="10.7" text-anchor="middle" font-weight="normal" font-style="normal" fill="#000" >+</text>
<text x="541.00" y="209.30" font-size="10.7" text-anchor="end" font-weight="normal" font-style="normal" fill="#000" >Flag-SQSTM1</text>
<text x="548.70" y="209.30" font-size="10.7" text-anchor="middle" font-weight="normal" font-style="normal" fill="#000" >-</text>
<text x="567.00" y="209.30" font-size="10.7" text-anchor="middle" font-weight="normal" font-style="normal" fill="#000" >-</text>
<text x="585.10" y="209.30" font-size="10.7" text-anchor="middle" font-weight="normal" font-style="normal" fill="#000" >-</text>
<text x="603.40" y="209.30" font-size="10.7" text-anchor="middle" font-weight="normal" font-style="normal" fill="#000" >-</text>
<text x="621.60" y="209.30" font-size="10.7" text-anchor="middle" font-weight="normal" font-style="normal" fill="#000" >+</text>
<text x="639.80" y="209.30" font-size="10.7" text-anchor="middle" font-weight="normal" font-style="normal" fill="#000" >-</text>
<text x="657.90" y="209.30" font-size="10.7" text-anchor="middle" font-weight="normal" font-style="normal" fill="#000" >-</text>
<text x="542.00" y="220.80" font-size="10.7" text-anchor="end" font-weight="normal" font-style="normal" fill="#000" >Flag-T138A</text>
<text x="548.70" y="220.80" font-size="10.7" text-anchor="middle" font-weight="normal" font-style="normal" fill="#000" >-</text>
<text x="567.00" y="220.80" font-size="10.7" text-anchor="middle" font-weight="normal" font-style="normal" fill="#000" >-</text>
<text x="585.10" y="220.80" font-size="10.7" text-anchor="middle" font-weight="normal" font-style="normal" fill="#000" >-</text>
<text x="603.40" y="220.80" font-size="10.7" text-anchor="middle" font-weight="normal" font-style="normal" fill="#000" >-</text>
<text x="621.60" y="220.80" font-size="10.7" text-anchor="middle" font-weight="normal" font-style="normal" fill="#000" >-</text>
<text x="639.80" y="220.80" font-size="10.7" text-anchor="middle" font-weight="normal" font-style="normal" fill="#000" >+</text>
<text x="657.90" y="220.80" font-size="10.7" text-anchor="middle" font-weight="normal" font-style="normal" fill="#000" >-</text>
<text x="542.00" y="233.00" font-size="10.7" text-anchor="end" font-weight="normal" font-style="normal" fill="#000" >Flag-T138D</text>
<text x="548.70" y="233.00" font-size="10.7" text-anchor="middle" font-weight="normal" font-style="normal" fill="#000" >-</text>
<text x="567.00" y="233.00" font-size="10.7" text-anchor="middle" font-weight="normal" font-style="normal" fill="#000" >-</text>
<text x="585.10" y="233.00" font-size="10.7" text-anchor="middle" font-weight="normal" font-style="normal" fill="#000" >-</text>
<text x="603.40" y="233.00" font-size="10.7" text-anchor="middle" font-weight="normal" font-style="normal" fill="#000" >-</text>
<text x="621.60" y="233.00" font-size="10.7" text-anchor="middle" font-weight="normal" font-style="normal" fill="#000" >-</text>
<text x="639.80" y="233.00" font-size="10.7" text-anchor="middle" font-weight="normal" font-style="normal" fill="#000" >-</text>
<text x="657.90" y="233.00" font-size="10.7" text-anchor="middle" font-weight="normal" font-style="normal" fill="#000" >+</text>
<text x="8.00" y="264.00" font-size="12" text-anchor="start" font-weight="bold" font-style="normal" fill="#000" >D</text>
<text transform="translate(38.00,403.30) rotate(-90)" font-size="10.7" text-anchor="middle">20</text>
<text transform="translate(38.00,418.40) rotate(-90)" font-size="10.7" text-anchor="middle">0</text>
<path d="M80.40,422.00 V341.30 H102.80 V422.00" fill="#fff" stroke="#2a8fb0" stroke-width="1.1"/>
<path d="M113.25,422.00 V396.50 H135.75 V422.00" fill="#fff" stroke="#b02a2a" stroke-width="1.1"/>
<path d="M146.10,422.00 V367.60 H168.90 V422.00" fill="#fff" stroke="#2e8b3a" stroke-width="1.1"/>
<line x1="53.00" y1="418.80" x2="64.00" y2="418.80" stroke="#000" stroke-width="1.0" />
<line x1="42.10" y1="319.00" x2="42.10" y2="422.20" stroke="#4a4a4a" stroke-width="1.6" />
<line x1="41.60" y1="421.70" x2="174.40" y2="421.70" stroke="#4a4a4a" stroke-width="1.6" />
<line x1="39.50" y1="319.50" x2="42.10" y2="319.50" stroke="#4a4a4a" stroke-width="1.6" />
<text transform="translate(38.00,319.50) rotate(-90)" font-size="10.7" text-anchor="middle">100</text>
<line x1="39.50" y1="340.00" x2="42.10" y2="340.00" stroke="#4a4a4a" stroke-width="1.6" />
<text transform="translate(38.00,340.00) rotate(-90)" font-size="10.7" text-anchor="middle">80</text>
<line x1="39.50" y1="360.50" x2="42.10" y2="360.50" stroke="#4a4a4a" stroke-width="1.6" />
<text transform="translate(38.00,360.50) rotate(-90)" font-size="10.7" text-anchor="middle">60</text>
<line x1="39.50" y1="381.00" x2="42.10" y2="381.00" stroke="#4a4a4a" stroke-width="1.6" />
<text transform="translate(38.00,381.00) rotate(-90)" font-size="10.7" text-anchor="middle">40</text>
<line x1="39.50" y1="401.40" x2="42.10" y2="401.40" stroke="#4a4a4a" stroke-width="1.6" />
<line x1="39.50" y1="421.70" x2="42.10" y2="421.70" stroke="#4a4a4a" stroke-width="1.6" />
<line x1="58.60" y1="421.70" x2="58.60" y2="424.90" stroke="#4a4a4a" stroke-width="1.6" />
<line x1="91.60" y1="421.70" x2="91.60" y2="424.90" stroke="#4a4a4a" stroke-width="1.6" />
<line x1="124.50" y1="421.70" x2="124.50" y2="424.90" stroke="#4a4a4a" stroke-width="1.6" />
<line x1="157.50" y1="421.70" x2="157.50" y2="424.90" stroke="#4a4a4a" stroke-width="1.6" />
<text transform="translate(21.60,358.20) rotate(-90)" font-size="10.7" text-anchor="middle"><tspan font-style="italic">IFNB1</tspan> mRNA</text>
<line x1="58.60" y1="417.20" x2="58.60" y2="420.60" stroke="#000" stroke-width="1.15" />
<line x1="56.10" y1="417.20" x2="61.10" y2="417.20" stroke="#000" stroke-width="1.15" />
<line x1="56.10" y1="420.60" x2="61.10" y2="420.60" stroke="#000" stroke-width="1.15" />
<circle cx="58.60" cy="411.20" r="2.0" fill="#000"/>
<circle cx="49.80" cy="420.60" r="2.0" fill="#000"/>
<circle cx="54.00" cy="420.60" r="2.0" fill="#000"/>
<circle cx="58.60" cy="420.60" r="2.0" fill="#000"/>
<circle cx="62.70" cy="420.60" r="2.0" fill="#000"/>
<circle cx="67.10" cy="420.60" r="2.0" fill="#000"/>
<line x1="91.60" y1="333.40" x2="91.60" y2="350.10" stroke="#000" stroke-width="1.15" />
<line x1="86.35" y1="333.40" x2="96.85" y2="333.40" stroke="#000" stroke-width="1.15" />
<line x1="86.35" y1="350.10" x2="96.85" y2="350.10" stroke="#000" stroke-width="1.15" />
<circle cx="91.60" cy="324.70" r="2.0" fill="#1c86a8"/>
<circle cx="91.60" cy="338.50" r="2.0" fill="#1c86a8"/>
<circle cx="89.00" cy="350.50" r="2.0" fill="#1c86a8"/>
<circle cx="94.00" cy="351.60" r="2.0" fill="#1c86a8"/>
<circle cx="91.60" cy="371.30" r="2.0" fill="#1c86a8"/>
<line x1="124.50" y1="392.50" x2="124.50" y2="400.90" stroke="#000" stroke-width="1.15" />
<line x1="119.25" y1="392.50" x2="129.75" y2="392.50" stroke="#000" stroke-width="1.15" />
<line x1="119.25" y1="400.90" x2="129.75" y2="400.90" stroke="#000" stroke-width="1.15" />
<circle cx="124.50" cy="384.40" r="2.0" fill="#a80f1a"/>
<circle cx="127.10" cy="387.30" r="2.0" fill="#a80f1a"/>
<circle cx="121.80" cy="398.70" r="2.0" fill="#a80f1a"/>
<circle cx="124.50" cy="395.40" r="2.0" fill="#a80f1a"/>
<circle cx="127.10" cy="404.60" r="2.0" fill="#a80f1a"/>
<circle cx="124.50" cy="411.80" r="2.0" fill="#a80f1a"/>
<line x1="157.50" y1="362.60" x2="157.50" y2="373.50" stroke="#000" stroke-width="1.15" />
<line x1="152.25" y1="362.60" x2="162.75" y2="362.60" stroke="#000" stroke-width="1.15" />
<line x1="152.25" y1="373.50" x2="162.75" y2="373.50" stroke="#000" stroke-width="1.15" />
<circle cx="157.50" cy="351.20" r="2.0" fill="#0b6b1f"/>
<circle cx="157.50" cy="359.30" r="2.0" fill="#0b6b1f"/>
<circle cx="154.90" cy="368.70" r="2.0" fill="#0b6b1f"/>
<circle cx="160.20" cy="367.40" r="2.0" fill="#0b6b1f"/>
<circle cx="157.50" cy="377.20" r="2.0" fill="#0b6b1f"/>
<circle cx="157.50" cy="388.40" r="2.0" fill="#0b6b1f"/>
<path d="M61.75,307.80 V304.40 H89.25 V307.80" fill="none" stroke="#000" stroke-width="1.5"/>
<text x="76.25" y="299.50" font-size="10.7" text-anchor="middle" font-weight="normal" font-style="normal" fill="#000" ><tspan font-style="italic">P</tspan>&lt;0.0001</text>
<path d="M97.30,321.70 V318.30 H124.20 V321.70" fill="none" stroke="#000" stroke-width="1.5"/>
<text x="116.25" y="313.75" font-size="10.7" text-anchor="middle" font-weight="normal" font-style="normal" fill="#000" ><tspan font-style="italic">P</tspan>=0.0002</text>
<path d="M129.50,345.80 V342.40 H156.90 V345.80" fill="none" stroke="#000" stroke-width="1.5"/>
<text x="145.00" y="339.60" font-size="10.7" text-anchor="middle" font-weight="normal" font-style="normal" fill="#000" ><tspan font-style="italic">P</tspan>=0.002</text>
<text transform="translate(67.60,433.40) rotate(-40)" font-size="11" text-anchor="end">PBS</text>
<text transform="translate(97.00,433.40) rotate(-40)" font-size="11" text-anchor="end">VSV-GFP</text>
<text transform="translate(128.60,433.40) rotate(-40)" font-size="11" text-anchor="end">VSV-M</text>
<text transform="translate(160.00,433.60) rotate(-40)" font-size="11" text-anchor="end">VSV-M<tspan font-size="8" dy="-3.5" fill="#777">△</tspan><tspan dy="3.5">β</tspan><tspan font-size="6.5" dy="2">3-5</tspan></text>
<text x="214.60" y="266.60" font-size="12" text-anchor="start" font-weight="bold" font-style="normal" fill="#000" >E</text>
<text transform="translate(253.60,287.60) rotate(-90)" font-size="10.7" text-anchor="middle">80</text>
<text transform="translate(253.60,313.50) rotate(-90)" font-size="10.7" text-anchor="middle">60</text>
<text transform="translate(253.60,341.70) rotate(-90)" font-size="10.7" text-anchor="middle">40</text>
<text transform="translate(253.60,370.80) rotate(-90)" font-size="10.7" text-anchor="middle">20</text>
<text transform="translate(253.60,396.50) rotate(-90)" font-size="10.7" text-anchor="middle">0</text>
<path d="M263.40,397.40 V396.60 H278.60 V397.40" fill="#d6d6d6" stroke="#000" stroke-width="1.2"/>
<path d="M286.40,397.40 V329.50 H301.60 V397.40" fill="#d6d6d6" stroke="#000" stroke-width="1.2"/>
<path d="M308.90,397.40 V361.25 H324.10 V397.40" fill="#d6d6d6" stroke="#000" stroke-width="1.2"/>
<path d="M331.15,397.40 V335.50 H346.35 V397.40" fill="#d6d6d6" stroke="#000" stroke-width="1.2"/>
<path d="M353.40,397.40 V376.75 H368.60 V397.40" fill="#d6d6d6" stroke="#000" stroke-width="1.2"/>
<path d="M375.90,397.40 V393.25 H391.10 V397.40" fill="#d6d6d6" stroke="#000" stroke-width="1.2"/>
<path d="M398.40,397.40 V321.75 H413.60 V397.40" fill="#d6d6d6" stroke="#000" stroke-width="1.2"/>
<path d="M420.90,397.40 V354.25 H436.10 V397.40" fill="#d6d6d6" stroke="#000" stroke-width="1.2"/>
<path d="M443.15,397.40 V336.25 H458.35 V397.40" fill="#d6d6d6" stroke="#000" stroke-width="1.2"/>
<path d="M465.40,397.40 V374.25 H480.60 V397.40" fill="#d6d6d6" stroke="#000" stroke-width="1.2"/>
<line x1="261.00" y1="287.30" x2="261.00" y2="397.90" stroke="#000" stroke-width="1.25" />
<line x1="260.50" y1="397.40" x2="484.50" y2="397.40" stroke="#000" stroke-width="1.25" />
<line x1="257.50" y1="287.80" x2="261.00" y2="287.80" stroke="#000" stroke-width="1.25" />
<line x1="257.50" y1="309.60" x2="261.00" y2="309.60" stroke="#000" stroke-width="1.25" />
<line x1="257.50" y1="331.40" x2="261.00" y2="331.40" stroke="#000" stroke-width="1.25" />
<line x1="257.50" y1="353.30" x2="261.00" y2="353.30" stroke="#000" stroke-width="1.25" />
<line x1="257.50" y1="375.10" x2="261.00" y2="375.10" stroke="#000" stroke-width="1.25" />
<line x1="257.50" y1="397.40" x2="261.00" y2="397.40" stroke="#000" stroke-width="1.25" />
<line x1="271.00" y1="397.40" x2="271.00" y2="400.60" stroke="#000" stroke-width="1.25" />
<line x1="294.00" y1="397.40" x2="294.00" y2="400.60" stroke="#000" stroke-width="1.25" />
<line x1="316.50" y1="397.40" x2="316.50" y2="400.60" stroke="#000" stroke-width="1.25" />
<line x1="338.75" y1="397.40" x2="338.75" y2="400.60" stroke="#000" stroke-width="1.25" />
<line x1="361.00" y1="397.40" x2="361.00" y2="400.60" stroke="#000" stroke-width="1.25" />
<line x1="383.50" y1="397.40" x2="383.50" y2="400.60" stroke="#000" stroke-width="1.25" />
<line x1="406.00" y1="397.40" x2="406.00" y2="400.60" stroke="#000" stroke-width="1.25" />
<line x1="428.50" y1="397.40" x2="428.50" y2="400.60" stroke="#000" stroke-width="1.25" />
<line x1="450.75" y1="397.40" x2="450.75" y2="400.60" stroke="#000" stroke-width="1.25" />
<line x1="473.00" y1="397.40" x2="473.00" y2="400.60" stroke="#000" stroke-width="1.25" />
<text transform="translate(232.80,345.60) rotate(-90)" font-size="10.7" text-anchor="middle"><tspan font-style="italic">IFNB1</tspan> mRNA</text>
<line x1="294.00" y1="325.70" x2="294.00" y2="329.50" stroke="#000" stroke-width="1.15" />
<line x1="290.20" y1="325.70" x2="297.80" y2="325.70" stroke="#000" stroke-width="1.15" />
<line x1="316.50" y1="352.80" x2="316.50" y2="361.25" stroke="#000" stroke-width="1.15" />
<line x1="312.70" y1="352.80" x2="320.30" y2="352.80" stroke="#000" stroke-width="1.15" />
<line x1="338.75" y1="326.90" x2="338.75" y2="335.50" stroke="#000" stroke-width="1.15" />
<line x1="334.95" y1="326.90" x2="342.55" y2="326.90" stroke="#000" stroke-width="1.15" />
<line x1="361.00" y1="372.40" x2="361.00" y2="376.75" stroke="#000" stroke-width="1.15" />
<line x1="357.20" y1="372.40" x2="364.80" y2="372.40" stroke="#000" stroke-width="1.15" />
<line x1="406.00" y1="311.75" x2="406.00" y2="321.75" stroke="#000" stroke-width="1.15" />
<line x1="402.20" y1="311.75" x2="409.80" y2="311.75" stroke="#000" stroke-width="1.15" />
<line x1="428.50" y1="349.50" x2="428.50" y2="354.25" stroke="#000" stroke-width="1.15" />
<line x1="424.70" y1="349.50" x2="432.30" y2="349.50" stroke="#000" stroke-width="1.15" />
<line x1="450.75" y1="330.50" x2="450.75" y2="336.25" stroke="#000" stroke-width="1.15" />
<line x1="446.95" y1="330.50" x2="454.55" y2="330.50" stroke="#000" stroke-width="1.15" />
<line x1="473.00" y1="371.25" x2="473.00" y2="374.25" stroke="#000" stroke-width="1.15" />
<line x1="469.20" y1="371.25" x2="476.80" y2="371.25" stroke="#000" stroke-width="1.15" />
<circle cx="266.50" cy="396.40" r="1.0" fill="#000"/>
<circle cx="271.00" cy="396.40" r="1.0" fill="#000"/>
<circle cx="275.50" cy="396.40" r="1.0" fill="#000"/>
<circle cx="293.70" cy="321.80" r="1.3" fill="#000"/>
<circle cx="291.90" cy="334.40" r="1.3" fill="#000"/>
<circle cx="296.10" cy="332.70" r="1.3" fill="#000"/>
<circle cx="316.30" cy="347.60" r="1.3" fill="#000"/>
<circle cx="316.30" cy="359.50" r="1.3" fill="#000"/>
<circle cx="316.30" cy="377.70" r="1.3" fill="#000"/>
<circle cx="338.70" cy="319.50" r="1.3" fill="#000"/>
<circle cx="338.70" cy="337.60" r="1.3" fill="#000"/>
<circle cx="338.70" cy="349.70" r="1.3" fill="#000"/>
<circle cx="360.90" cy="369.10" r="1.3" fill="#000"/>
<circle cx="360.90" cy="376.80" r="1.3" fill="#000"/>
<circle cx="360.90" cy="384.30" r="1.3" fill="#000"/>
<circle cx="379.50" cy="392.60" r="1.3" fill="#000"/>
<circle cx="383.50" cy="393.50" r="1.3" fill="#000"/>
<circle cx="387.50" cy="393.00" r="1.3" fill="#000"/>
<circle cx="405.75" cy="305.50" r="1.3" fill="#000"/>
<circle cx="405.75" cy="321.25" r="1.3" fill="#000"/>
<circle cx="405.75" cy="339.25" r="1.3" fill="#000"/>
<circle cx="428.25" cy="345.75" r="1.3" fill="#000"/>
<circle cx="428.25" cy="355.00" r="1.3" fill="#000"/>
<circle cx="428.25" cy="361.25" r="1.3" fill="#000"/>
<circle cx="450.25" cy="325.50" r="1.3" fill="#000"/>
<circle cx="450.25" cy="336.25" r="1.3" fill="#000"/>
<circle cx="450.25" cy="345.75" r="1.3" fill="#000"/>
<circle cx="472.00" cy="368.75" r="1.3" fill="#000"/>
<circle cx="470.00" cy="377.50" r="1.3" fill="#000"/>
<circle cx="475.25" cy="375.00" r="1.3" fill="#000"/>
<path d="M293.50,279.65 V276.25 H362.75 V279.65" fill="none" stroke="#000" stroke-width="1.5"/>
<text x="327.75" y="273.50" font-size="10.7" text-anchor="middle" font-weight="normal" font-style="normal" fill="#000" ><tspan font-style="italic">P</tspan>=0.0014</text>
<path d="M294.00,298.40 V295.00 H340.00 V298.40" fill="none" stroke="#000" stroke-width="1.5"/>
<text x="316.50" y="291.25" font-size="10.7" text-anchor="middle" font-weight="normal" font-style="normal" fill="#000" >NS</text>
<path d="M293.50,314.35 V310.75 H316.50 V314.35" fill="none" stroke="#000" stroke-width="1.5"/>
<text x="305.10" y="307.00" font-size="10.7" text-anchor="middle" font-weight="normal" font-style="normal" fill="#000" ><tspan font-style="italic">P</tspan>=0.0294</text>
<path d="M405.75,268.60 V265.00 H474.50 V268.60" fill="none" stroke="#000" stroke-width="1.5"/>
<text x="440.00" y="261.75" font-size="10.7" text-anchor="middle" font-weight="normal" font-style="normal" fill="#000" ><tspan font-style="italic">P</tspan>=0.0069</text>
<path d="M406.25,283.40 V280.00 H452.50 V283.40" fill="none" stroke="#000" stroke-width="1.5"/>
<text x="428.25" y="276.50" font-size="10.7" text-anchor="middle" font-weight="normal" font-style="normal" fill="#000" >NS</text>
<path d="M406.25,301.60 V298.00 H428.50 V301.60" fill="none" stroke="#000" stroke-width="1.5"/>
<text x="417.00" y="293.75" font-size="10.7" text-anchor="middle" font-weight="normal" font-style="normal" fill="#000" ><tspan font-style="italic">P</tspan>=0.0402</text>
<text x="263.50" y="408.70" font-size="10.7" text-anchor="end" font-weight="normal" font-style="normal" fill="#000" >poly(I:C)</text>
<text x="270.00" y="408.70" font-size="10.7" text-anchor="middle" font-weight="normal" font-style="normal" fill="#000" >-</text>
<text x="293.00" y="408.70" font-size="10.7" text-anchor="middle" font-weight="normal" font-style="normal" fill="#000" >+</text>
<text x="315.50" y="408.70" font-size="10.7" text-anchor="middle" font-weight="normal" font-style="normal" fill="#000" >+</text>
<text x="337.75" y="408.70" font-size="10.7" text-anchor="middle" font-weight="normal" font-style="normal" fill="#000" >+</text>
<text x="360.00" y="408.70" font-size="10.7" text-anchor="middle" font-weight="normal" font-style="normal" fill="#000" >+</text>
<text x="382.50" y="408.70" font-size="10.7" text-anchor="middle" font-weight="normal" font-style="normal" fill="#000" >-</text>
<text x="405.00" y="408.70" font-size="10.7" text-anchor="middle" font-weight="normal" font-style="normal" fill="#000" >+</text>
<text x="427.50" y="408.70" font-size="10.7" text-anchor="middle" font-weight="normal" font-style="normal" fill="#000" >+</text>
<text x="449.75" y="408.70" font-size="10.7" text-anchor="middle" font-weight="normal" font-style="normal" fill="#000" >+</text>
<text x="472.00" y="408.70" font-size="10.7" text-anchor="middle" font-weight="normal" font-style="normal" fill="#000" >+</text>
<text x="263.50" y="422.10" font-size="10.7" text-anchor="end" font-weight="normal" font-style="normal" fill="#000" >Flag-SQSTM1</text>
<text x="270.00" y="422.10" font-size="10.7" text-anchor="middle" font-weight="normal" font-style="normal" fill="#000" >-</text>
<text x="293.00" y="422.10" font-size="10.7" text-anchor="middle" font-weight="normal" font-style="normal" fill="#000" >-</text>
<text x="315.50" y="422.10" font-size="10.7" text-anchor="middle" font-weight="normal" font-style="normal" fill="#000" >+</text>
<text x="337.75" y="422.10" font-size="10.7" text-anchor="middle" font-weight="normal" font-style="normal" fill="#000" >-</text>
<text x="360.00" y="422.10" font-size="10.7" text-anchor="middle" font-weight="normal" font-style="normal" fill="#000" >-</text>
<text x="382.50" y="422.10" font-size="10.7" text-anchor="middle" font-weight="normal" font-style="normal" fill="#000" >-</text>
<text x="405.00" y="422.10" font-size="10.7" text-anchor="middle" font-weight="normal" font-style="normal" fill="#000" >-</text>
<text x="427.50" y="422.10" font-size="10.7" text-anchor="middle" font-weight="normal" font-style="normal" fill="#000" >+</text>
<text x="449.75" y="422.10" font-size="10.7" text-anchor="middle" font-weight="normal" font-style="normal" fill="#000" >-</text>
<text x="472.00" y="422.10" font-size="10.7" text-anchor="middle" font-weight="normal" font-style="normal" fill="#000" >-</text>
<text x="263.50" y="433.80" font-size="10.7" text-anchor="end" font-weight="normal" font-style="normal" fill="#000" >Flag-T138A</text>
<text x="270.00" y="433.80" font-size="10.7" text-anchor="middle" font-weight="normal" font-style="normal" fill="#000" >-</text>
<text x="293.00" y="433.80" font-size="10.7" text-anchor="middle" font-weight="normal" font-style="normal" fill="#000" >-</text>
<text x="315.50" y="433.80" font-size="10.7" text-anchor="middle" font-weight="normal" font-style="normal" fill="#000" >-</text>
<text x="337.75" y="433.80" font-size="10.7" text-anchor="middle" font-weight="normal" font-style="normal" fill="#000" >+</text>
<text x="360.00" y="433.80" font-size="10.7" text-anchor="middle" font-weight="normal" font-style="normal" fill="#000" >-</text>
<text x="382.50" y="433.80" font-size="10.7" text-anchor="middle" font-weight="normal" font-style="normal" fill="#000" >-</text>
<text x="405.00" y="433.80" font-size="10.7" text-anchor="middle" font-weight="normal" font-style="normal" fill="#000" >-</text>
<text x="427.50" y="433.80" font-size="10.7" text-anchor="middle" font-weight="normal" font-style="normal" fill="#000" >-</text>
<text x="449.75" y="433.80" font-size="10.7" text-anchor="middle" font-weight="normal" font-style="normal" fill="#000" >+</text>
<text x="472.00" y="433.80" font-size="10.7" text-anchor="middle" font-weight="normal" font-style="normal" fill="#000" >-</text>
<text x="264.70" y="446.80" font-size="10.7" text-anchor="end" font-weight="normal" font-style="normal" fill="#000" >Flag-T138D</text>
<text x="270.00" y="446.80" font-size="10.7" text-anchor="middle" font-weight="normal" font-style="normal" fill="#000" >-</text>
<text x="293.00" y="446.80" font-size="10.7" text-anchor="middle" font-weight="normal" font-style="normal" fill="#000" >-</text>
<text x="315.50" y="446.80" font-size="10.7" text-anchor="middle" font-weight="normal" font-style="normal" fill="#000" >-</text>
<text x="337.75" y="446.80" font-size="10.7" text-anchor="middle" font-weight="normal" font-style="normal" fill="#000" >-</text>
<text x="360.00" y="446.80" font-size="10.7" text-anchor="middle" font-weight="normal" font-style="normal" fill="#000" >+</text>
<text x="382.50" y="446.80" font-size="10.7" text-anchor="middle" font-weight="normal" font-style="normal" fill="#000" >-</text>
<text x="405.00" y="446.80" font-size="10.7" text-anchor="middle" font-weight="normal" font-style="normal" fill="#000" >-</text>
<text x="427.50" y="446.80" font-size="10.7" text-anchor="middle" font-weight="normal" font-style="normal" fill="#000" >-</text>
<text x="449.75" y="446.80" font-size="10.7" text-anchor="middle" font-weight="normal" font-style="normal" fill="#000" >-</text>
<text x="472.00" y="446.80" font-size="10.7" text-anchor="middle" font-weight="normal" font-style="normal" fill="#000" >+</text>
<line x1="265.50" y1="453.25" x2="366.50" y2="453.25" stroke="#111" stroke-width="1.2" />
<line x1="377.75" y1="453.25" x2="477.75" y2="453.25" stroke="#111" stroke-width="1.2" />
<text x="314.00" y="464.50" font-size="10.7" text-anchor="middle" font-weight="normal" font-style="normal" fill="#000" >WT</text>
<text x="429.50" y="464.50" font-size="10.7" text-anchor="middle" font-weight="normal" font-style="normal" fill="#000" ><tspan font-style="italic">PDPK1</tspan> KO</text>
<text x="510.60" y="266.80" font-size="12" text-anchor="start" font-weight="bold" font-style="normal" fill="#000" >F</text>
<text transform="translate(548.40,413.20) rotate(-90)" font-size="10.7" text-anchor="middle">0</text>
<path d="M558.65,415.10 V414.00 H572.15 V415.10" fill="#d6d6d6" stroke="#2a2a2a" stroke-width="1.1"/>
<path d="M578.25,415.10 V404.50 H591.75 V415.10" fill="#d6d6d6" stroke="#2a2a2a" stroke-width="1.1"/>
<path d="M598.05,415.10 V357.50 H611.55 V415.10" fill="#d6d6d6" stroke="#2a2a2a" stroke-width="1.1"/>
<path d="M617.75,415.10 V388.30 H631.25 V415.10" fill="#d6d6d6" stroke="#6a6a6a" stroke-width="1.1"/>
<path d="M637.45,415.10 V329.40 H650.95 V415.10" fill="#d6d6d6" stroke="#6a6a6a" stroke-width="1.1"/>
<line x1="555.80" y1="299.50" x2="555.80" y2="415.60" stroke="#222" stroke-width="1.1" />
<line x1="555.30" y1="415.10" x2="654.50" y2="415.10" stroke="#222" stroke-width="1.1" />
<line x1="552.30" y1="300.00" x2="555.80" y2="300.00" stroke="#222" stroke-width="1.1" />
<text transform="translate(548.60,300.00) rotate(-90)" font-size="10.7" text-anchor="middle">150</text>
<line x1="552.30" y1="338.30" x2="555.80" y2="338.30" stroke="#222" stroke-width="1.1" />
<text transform="translate(548.60,338.30) rotate(-90)" font-size="10.7" text-anchor="middle">100</text>
<line x1="552.30" y1="377.00" x2="555.80" y2="377.00" stroke="#222" stroke-width="1.1" />
<text transform="translate(548.60,377.00) rotate(-90)" font-size="10.7" text-anchor="middle">50</text>
<line x1="552.30" y1="415.10" x2="555.80" y2="415.10" stroke="#222" stroke-width="1.1" />
<line x1="565.40" y1="415.10" x2="565.40" y2="418.30" stroke="#222" stroke-width="1.1" />
<line x1="585.00" y1="415.10" x2="585.00" y2="418.30" stroke="#222" stroke-width="1.1" />
<line x1="604.80" y1="415.10" x2="604.80" y2="418.30" stroke="#222" stroke-width="1.1" />
<line x1="624.50" y1="415.10" x2="624.50" y2="418.30" stroke="#222" stroke-width="1.1" />
<line x1="644.20" y1="415.10" x2="644.20" y2="418.30" stroke="#222" stroke-width="1.1" />
<text transform="translate(534.20,350.00) rotate(-90)" font-size="10.7" text-anchor="middle"><tspan font-style="italic">IFNB1</tspan> mRNA</text>
<line x1="585.00" y1="403.30" x2="585.00" y2="405.70" stroke="#000" stroke-width="1.15" />
<line x1="581.75" y1="403.30" x2="588.25" y2="403.30" stroke="#000" stroke-width="1.15" />
<line x1="581.75" y1="405.70" x2="588.25" y2="405.70" stroke="#000" stroke-width="1.15" />
<line x1="604.80" y1="354.50" x2="604.80" y2="360.20" stroke="#000" stroke-width="1.15" />
<line x1="601.55" y1="354.50" x2="608.05" y2="354.50" stroke="#000" stroke-width="1.15" />
<line x1="601.55" y1="360.20" x2="608.05" y2="360.20" stroke="#000" stroke-width="1.15" />
<line x1="624.50" y1="385.60" x2="624.50" y2="390.40" stroke="#000" stroke-width="1.15" />
<line x1="621.25" y1="385.60" x2="627.75" y2="385.60" stroke="#000" stroke-width="1.15" />
<line x1="621.25" y1="390.40" x2="627.75" y2="390.40" stroke="#000" stroke-width="1.15" />
<line x1="644.20" y1="323.50" x2="644.20" y2="334.50" stroke="#000" stroke-width="1.15" />
<line x1="640.95" y1="323.50" x2="647.45" y2="323.50" stroke="#000" stroke-width="1.15" />
<line x1="640.95" y1="334.50" x2="647.45" y2="334.50" stroke="#000" stroke-width="1.15" />
<circle cx="562.00" cy="413.80" r="1.15" fill="#000"/>
<circle cx="565.40" cy="413.80" r="1.15" fill="#000"/>
<circle cx="568.80" cy="413.80" r="1.15" fill="#000"/>
<circle cx="582.00" cy="404.20" r="1.15" fill="#000"/>
<circle cx="585.00" cy="403.80" r="1.15" fill="#000"/>
<circle cx="588.00" cy="404.60" r="1.15" fill="#000"/>
<circle cx="604.80" cy="351.30" r="1.15" fill="#000"/>
<circle cx="604.80" cy="358.00" r="1.15" fill="#000"/>
<circle cx="604.80" cy="362.00" r="1.15" fill="#000"/>
<circle cx="624.50" cy="382.90" r="1.15" fill="#000"/>
<circle cx="624.50" cy="388.30" r="1.15" fill="#000"/>
<circle cx="624.50" cy="392.60" r="1.15" fill="#000"/>
<circle cx="644.20" cy="320.80" r="1.15" fill="#000"/>
<circle cx="644.20" cy="328.30" r="1.15" fill="#000"/>
<circle cx="644.20" cy="339.10" r="1.15" fill="#000"/>
<path d="M586.40,346.40 V342.60 H606.10 V346.40" fill="none" stroke="#000" stroke-width="1.5"/>
<text x="597.00" y="338.00" font-size="10.7" text-anchor="middle" font-weight="normal" font-style="normal" fill="#000" ><tspan font-style="italic">P</tspan>=0.0002</text>
<path d="M623.70,315.40 V311.60 H643.40 V315.40" fill="none" stroke="#000" stroke-width="1.5"/>
<text x="632.40" y="307.00" font-size="10.7" text-anchor="middle" font-weight="normal" font-style="normal" fill="#000" ><tspan font-style="italic">P</tspan>=0.0007</text>
<text x="549.40" y="427.80" font-size="10.7" text-anchor="end" font-weight="normal" font-style="normal" fill="#000" >PEDV</text>
<text x="564.90" y="428.20" font-size="10.7" text-anchor="middle" font-weight="normal" font-style="normal" fill="#000" >-</text>
<text x="584.50" y="428.20" font-size="10.7" text-anchor="middle" font-weight="normal" font-style="normal" fill="#000" >+</text>
<text x="604.30" y="428.20" font-size="10.7" text-anchor="middle" font-weight="normal" font-style="normal" fill="#000" >+</text>
<text x="624.00" y="428.20" font-size="10.7" text-anchor="middle" font-weight="normal" font-style="normal" fill="#000" >-</text>
<text x="643.70" y="428.20" font-size="10.7" text-anchor="middle" font-weight="normal" font-style="normal" fill="#000" >-</text>
<text x="549.40" y="440.00" font-size="10.7" text-anchor="end" font-weight="normal" font-style="normal" fill="#000" >VSV-M</text>
<text x="564.90" y="441.00" font-size="10.7" text-anchor="middle" font-weight="normal" font-style="normal" fill="#000" >-</text>
<text x="584.50" y="441.00" font-size="10.7" text-anchor="middle" font-weight="normal" font-style="normal" fill="#000" >-</text>
<text x="604.30" y="441.00" font-size="10.7" text-anchor="middle" font-weight="normal" font-style="normal" fill="#000" >-</text>
<text x="624.00" y="441.00" font-size="10.7" text-anchor="middle" font-weight="normal" font-style="normal" fill="#000" >+</text>
<text x="643.70" y="441.00" font-size="10.7" text-anchor="middle" font-weight="normal" font-style="normal" fill="#000" >+</text>
<text x="549.40" y="452.10" font-size="10.7" text-anchor="end" font-weight="normal" font-style="normal" fill="#000" >OSU</text>
<text x="564.90" y="455.80" font-size="10.7" text-anchor="middle" font-weight="normal" font-style="normal" fill="#000" >-</text>
<text x="584.50" y="455.80" font-size="10.7" text-anchor="middle" font-weight="normal" font-style="normal" fill="#000" >-</text>
<text x="604.30" y="455.80" font-size="10.7" text-anchor="middle" font-weight="normal" font-style="normal" fill="#000" >+</text>
<text x="624.00" y="455.80" font-size="10.7" text-anchor="middle" font-weight="normal" font-style="normal" fill="#000" >-</text>
<text x="643.70" y="455.80" font-size="10.7" text-anchor="middle" font-weight="normal" font-style="normal" fill="#000" >+</text>
<text x="-0.50" y="490.20" font-size="12" text-anchor="start" font-weight="bold" font-style="normal" fill="#000" >G</text>
<path d="M88.10,624.10 V568.70 H110.30 V624.10" fill="#fff" stroke="#3030ff" stroke-width="1.1"/>
<path d="M120.10,624.10 V577.50 H142.70 V624.10" fill="#fff" stroke="#ff2020" stroke-width="1.1"/>
<path d="M153.20,624.10 V574.20 H175.60 V624.10" fill="#fff" stroke="#ff2020" stroke-width="1.1"/>
<line x1="50.40" y1="524.30" x2="50.40" y2="624.60" stroke="#000" stroke-width="1.25" />
<line x1="49.90" y1="624.10" x2="180.70" y2="624.10" stroke="#000" stroke-width="1.25" />
<line x1="46.90" y1="524.80" x2="50.40" y2="524.80" stroke="#000" stroke-width="1.25" />
<text transform="translate(43.80,524.80) rotate(-90)" font-size="10.7" text-anchor="middle">120</text>
<line x1="46.90" y1="550.00" x2="50.40" y2="550.00" stroke="#000" stroke-width="1.25" />
<text transform="translate(43.80,550.00) rotate(-90)" font-size="10.7" text-anchor="middle">90</text>
<line x1="46.90" y1="574.60" x2="50.40" y2="574.60" stroke="#000" stroke-width="1.25" />
<text transform="translate(43.80,574.60) rotate(-90)" font-size="10.7" text-anchor="middle">60</text>
<line x1="46.90" y1="599.50" x2="50.40" y2="599.50" stroke="#000" stroke-width="1.25" />
<text transform="translate(43.80,599.50) rotate(-90)" font-size="10.7" text-anchor="middle">30</text>
<line x1="46.90" y1="624.10" x2="50.40" y2="624.10" stroke="#000" stroke-width="1.25" />
<text transform="translate(43.80,624.10) rotate(-90)" font-size="10.7" text-anchor="middle">0</text>
<line x1="66.70" y1="624.10" x2="66.70" y2="627.30" stroke="#000" stroke-width="1.25" />
<line x1="99.20" y1="624.10" x2="99.20" y2="627.30" stroke="#000" stroke-width="1.25" />
<line x1="131.40" y1="624.10" x2="131.40" y2="627.30" stroke="#000" stroke-width="1.25" />
<line x1="164.40" y1="624.10" x2="164.40" y2="627.30" stroke="#000" stroke-width="1.25" />
<text transform="translate(30.30,569.00) rotate(-90)" font-size="10.7" text-anchor="middle"><tspan font-style="italic">IFNB1</tspan> mRNA</text>
<line x1="99.20" y1="560.50" x2="99.20" y2="577.60" stroke="#000" stroke-width="1.15" />
<line x1="93.45" y1="560.50" x2="104.95" y2="560.50" stroke="#000" stroke-width="1.15" />
<line x1="93.45" y1="577.60" x2="104.95" y2="577.60" stroke="#000" stroke-width="1.15" />
<line x1="131.40" y1="570.50" x2="131.40" y2="584.30" stroke="#000" stroke-width="1.15" />
<line x1="125.65" y1="570.50" x2="137.15" y2="570.50" stroke="#000" stroke-width="1.15" />
<line x1="125.65" y1="584.30" x2="137.15" y2="584.30" stroke="#000" stroke-width="1.15" />
<line x1="164.40" y1="567.20" x2="164.40" y2="581.40" stroke="#000" stroke-width="1.15" />
<line x1="158.65" y1="567.20" x2="170.15" y2="567.20" stroke="#000" stroke-width="1.15" />
<line x1="158.65" y1="581.40" x2="170.15" y2="581.40" stroke="#000" stroke-width="1.15" />
<circle cx="56.60" cy="623.40" r="2.0" fill="#0000ff"/>
<circle cx="60.40" cy="623.40" r="2.0" fill="#0000ff"/>
<circle cx="63.70" cy="623.40" r="2.0" fill="#0000ff"/>
<circle cx="67.70" cy="623.40" r="2.0" fill="#0000ff"/>
<circle cx="71.50" cy="623.40" r="2.0" fill="#0000ff"/>
<circle cx="75.50" cy="623.40" r="2.0" fill="#0000ff"/>
<circle cx="98.70" cy="538.80" r="2.0" fill="#0000ff"/>
<circle cx="98.70" cy="555.50" r="2.0" fill="#0000ff"/>
<circle cx="98.70" cy="562.10" r="2.0" fill="#0000ff"/>
<circle cx="98.70" cy="576.50" r="2.0" fill="#0000ff"/>
<circle cx="98.70" cy="584.70" r="2.0" fill="#0000ff"/>
<circle cx="98.70" cy="596.40" r="2.0" fill="#0000ff"/>
<circle cx="131.50" cy="552.10" r="2.0" fill="#ff0000"/>
<circle cx="126.40" cy="572.00" r="2.0" fill="#ff0000"/>
<circle cx="136.80" cy="572.00" r="2.0" fill="#ff0000"/>
<circle cx="131.50" cy="576.50" r="2.0" fill="#ff0000"/>
<circle cx="129.00" cy="597.50" r="2.0" fill="#ff0000"/>
<circle cx="134.20" cy="596.00" r="2.0" fill="#ff0000"/>
<circle cx="164.30" cy="548.10" r="2.0" fill="#ff0000"/>
<circle cx="164.30" cy="559.90" r="2.0" fill="#ff0000"/>
<circle cx="166.70" cy="575.40" r="2.0" fill="#ff0000"/>
<circle cx="161.40" cy="579.40" r="2.0" fill="#ff0000"/>
<circle cx="164.30" cy="587.60" r="2.0" fill="#ff0000"/>
<circle cx="164.30" cy="595.80" r="2.0" fill="#ff0000"/>
<path d="M73.20,506.80 V503.20 H130.40 V506.80" fill="none" stroke="#000" stroke-width="1.5"/>
<text x="101.20" y="500.50" font-size="10.7" text-anchor="middle" font-weight="normal" font-style="normal" fill="#000" ><tspan font-style="italic">P</tspan>&lt;0.0001</text>
<path d="M73.20,528.40 V524.80 H98.70 V528.40" fill="none" stroke="#000" stroke-width="1.5"/>
<text x="84.00" y="521.00" font-size="10.7" text-anchor="middle" font-weight="normal" font-style="normal" fill="#000" ><tspan font-style="italic">P</tspan>&lt;0.0001</text>
<path d="M133.90,539.40 V535.80 H161.50 V539.40" fill="none" stroke="#000" stroke-width="1.5"/>
<text x="148.10" y="532.20" font-size="10.7" text-anchor="middle" font-weight="normal" font-style="normal" fill="#000" >NS</text>
<text x="50.40" y="636.70" font-size="10.3" text-anchor="end" font-weight="normal" font-style="normal" fill="#000" >OSU</text>
<text x="66.10" y="636.50" font-size="10.7" text-anchor="middle" font-weight="normal" font-style="normal" fill="#000" >-</text>
<text x="98.00" y="636.50" font-size="10.7" text-anchor="middle" font-weight="normal" font-style="normal" fill="#000" >+</text>
<text x="129.70" y="636.50" font-size="10.7" text-anchor="middle" font-weight="normal" font-style="normal" fill="#000" >-</text>
<text x="162.50" y="636.50" font-size="10.7" text-anchor="middle" font-weight="normal" font-style="normal" fill="#000" >+</text>
<line x1="62.80" y1="639.40" x2="101.80" y2="639.40" stroke="#111" stroke-width="1.5" />
<line x1="127.00" y1="639.90" x2="169.60" y2="639.90" stroke="#111" stroke-width="1.5" />
<text x="60.30" y="651.50" font-size="10.7" text-anchor="start" font-weight="normal" font-style="normal" fill="#000" ><tspan font-style="italic">PDPK1</tspan><tspan font-style="italic" font-size="6.8" dy="-3.5">fl/fl</tspan></text>
<text x="121.70" y="651.50" font-size="10.7" text-anchor="start" font-weight="normal" font-style="normal" fill="#000" ><tspan font-style="italic">PDPK1</tspan> cKO</text>
<line x1="81.00" y1="656.70" x2="154.10" y2="656.70" stroke="#111" stroke-width="1.5" />
<text x="118.30" y="667.20" font-size="10.7" text-anchor="middle" font-weight="normal" font-style="normal" fill="#000" >VSV-M</text>
<text x="206.00" y="490.20" font-size="12" text-anchor="start" font-weight="bold" font-style="normal" fill="#000" >H</text>
<path d="M280.30,623.80 V562.50 H302.50 V623.80" fill="#fff" stroke="#3030ff" stroke-width="1.1"/>
<path d="M313.00,623.80 V560.50 H335.60 V623.80" fill="#fff" stroke="#ff2020" stroke-width="1.1"/>
<path d="M345.70,623.80 V572.50 H368.30 V623.80" fill="#fff" stroke="#ff2020" stroke-width="1.1"/>
<line x1="241.80" y1="522.80" x2="241.80" y2="624.30" stroke="#000" stroke-width="1.25" />
<line x1="241.30" y1="623.80" x2="373.30" y2="623.80" stroke="#000" stroke-width="1.25" />
<line x1="238.30" y1="523.30" x2="241.80" y2="523.30" stroke="#000" stroke-width="1.25" />
<text transform="translate(236.50,523.30) rotate(-90)" font-size="10.7" text-anchor="middle">120</text>
<line x1="238.30" y1="548.50" x2="241.80" y2="548.50" stroke="#000" stroke-width="1.25" />
<text transform="translate(236.50,548.50) rotate(-90)" font-size="10.7" text-anchor="middle">90</text>
<line x1="238.30" y1="573.70" x2="241.80" y2="573.70" stroke="#000" stroke-width="1.25" />
<text transform="translate(236.50,573.70) rotate(-90)" font-size="10.7" text-anchor="middle">60</text>
<line x1="238.30" y1="598.90" x2="241.80" y2="598.90" stroke="#000" stroke-width="1.25" />
<text transform="translate(236.50,598.90) rotate(-90)" font-size="10.7" text-anchor="middle">30</text>
<line x1="238.30" y1="623.80" x2="241.80" y2="623.80" stroke="#000" stroke-width="1.25" />
<text transform="translate(236.50,623.80) rotate(-90)" font-size="10.7" text-anchor="middle">0</text>
<line x1="258.20" y1="623.80" x2="258.20" y2="627.00" stroke="#000" stroke-width="1.25" />
<line x1="291.40" y1="623.80" x2="291.40" y2="627.00" stroke="#000" stroke-width="1.25" />
<line x1="324.30" y1="623.80" x2="324.30" y2="627.00" stroke="#000" stroke-width="1.25" />
<line x1="357.00" y1="623.80" x2="357.00" y2="627.00" stroke="#000" stroke-width="1.25" />
<text transform="translate(220.80,571.00) rotate(-90)" font-size="10.7" text-anchor="middle"><tspan font-style="italic">IFNB1</tspan> mRNA</text>
<line x1="291.40" y1="553.90" x2="291.40" y2="571.40" stroke="#000" stroke-width="1.15" />
<line x1="285.65" y1="553.90" x2="297.15" y2="553.90" stroke="#000" stroke-width="1.15" />
<line x1="285.65" y1="571.40" x2="297.15" y2="571.40" stroke="#000" stroke-width="1.15" />
<line x1="324.30" y1="552.60" x2="324.30" y2="568.30" stroke="#000" stroke-width="1.15" />
<line x1="318.55" y1="552.60" x2="330.05" y2="552.60" stroke="#000" stroke-width="1.15" />
<line x1="318.55" y1="568.30" x2="330.05" y2="568.30" stroke="#000" stroke-width="1.15" />
<line x1="357.00" y1="563.20" x2="357.00" y2="581.40" stroke="#000" stroke-width="1.15" />
<line x1="351.25" y1="563.20" x2="362.75" y2="563.20" stroke="#000" stroke-width="1.15" />
<line x1="351.25" y1="581.40" x2="362.75" y2="581.40" stroke="#000" stroke-width="1.15" />
<circle cx="249.00" cy="623.20" r="2.0" fill="#0000ff"/>
<circle cx="252.70" cy="623.20" r="2.0" fill="#0000ff"/>
<circle cx="256.50" cy="623.20" r="2.0" fill="#0000ff"/>
<circle cx="260.30" cy="623.20" r="2.0" fill="#0000ff"/>
<circle cx="264.00" cy="623.20" r="2.0" fill="#0000ff"/>
<circle cx="267.80" cy="623.20" r="2.0" fill="#0000ff"/>
<circle cx="291.30" cy="529.50" r="2.0" fill="#0000ff"/>
<circle cx="291.30" cy="552.60" r="2.0" fill="#0000ff"/>
<circle cx="293.70" cy="561.00" r="2.0" fill="#0000ff"/>
<circle cx="288.60" cy="565.90" r="2.0" fill="#0000ff"/>
<circle cx="291.30" cy="573.20" r="2.0" fill="#0000ff"/>
<circle cx="291.30" cy="595.30" r="2.0" fill="#0000ff"/>
<circle cx="324.30" cy="533.70" r="2.0" fill="#ff0000"/>
<circle cx="324.30" cy="547.00" r="2.0" fill="#ff0000"/>
<circle cx="327.00" cy="558.10" r="2.0" fill="#ff0000"/>
<circle cx="321.90" cy="559.90" r="2.0" fill="#ff0000"/>
<circle cx="324.30" cy="576.10" r="2.0" fill="#ff0000"/>
<circle cx="324.30" cy="589.40" r="2.0" fill="#ff0000"/>
<circle cx="356.90" cy="541.70" r="2.0" fill="#ff0000"/>
<circle cx="356.90" cy="553.90" r="2.0" fill="#ff0000"/>
<circle cx="359.50" cy="572.50" r="2.0" fill="#ff0000"/>
<circle cx="354.70" cy="574.30" r="2.0" fill="#ff0000"/>
<circle cx="356.90" cy="585.40" r="2.0" fill="#ff0000"/>
<circle cx="356.90" cy="605.30" r="2.0" fill="#ff0000"/>
<path d="M264.00,503.20 V499.60 H321.50 V503.20" fill="none" stroke="#000" stroke-width="1.5"/>
<text x="292.00" y="495.80" font-size="10.7" text-anchor="middle" font-weight="normal" font-style="normal" fill="#000" ><tspan font-style="italic">P</tspan>&lt;0.0001</text>
<path d="M264.00,522.50 V518.90 H289.80 V522.50" fill="none" stroke="#000" stroke-width="1.5"/>
<text x="279.00" y="514.40" font-size="10.7" text-anchor="middle" font-weight="normal" font-style="normal" fill="#000" ><tspan font-style="italic">P</tspan>&lt;0.0001</text>
<path d="M326.00,526.30 V522.70 H352.90 V526.30" fill="none" stroke="#000" stroke-width="1.5"/>
<text x="340.20" y="519.80" font-size="10.7" text-anchor="middle" font-weight="normal" font-style="normal" fill="#000" >NS</text>
<text x="241.50" y="636.50" font-size="10.7" text-anchor="end" font-weight="normal" font-style="normal" fill="#000" >OSU</text>
<text x="258.30" y="636.50" font-size="10.7" text-anchor="middle" font-weight="normal" font-style="normal" fill="#000" >-</text>
<text x="290.40" y="636.50" font-size="10.7" text-anchor="middle" font-weight="normal" font-style="normal" fill="#000" >+</text>
<text x="323.00" y="636.50" font-size="10.7" text-anchor="middle" font-weight="normal" font-style="normal" fill="#000" >-</text>
<text x="355.30" y="636.50" font-size="10.7" text-anchor="middle" font-weight="normal" font-style="normal" fill="#000" >+</text>
<line x1="255.00" y1="638.70" x2="294.40" y2="638.70" stroke="#111" stroke-width="1.5" />
<line x1="322.50" y1="638.70" x2="361.30" y2="638.70" stroke="#111" stroke-width="1.5" />
<text x="274.50" y="650.80" font-size="10.7" text-anchor="middle" font-weight="normal" font-style="normal" fill="#000" >WT</text>
<text x="335.60" y="650.80" font-size="10.7" text-anchor="middle" font-weight="normal" font-style="normal" fill="#000" ><tspan font-style="italic">SQSTM1</tspan> KO</text>
<line x1="274.20" y1="655.40" x2="347.30" y2="655.40" stroke="#111" stroke-width="1.5" />
<text x="311.00" y="666.30" font-size="10.7" text-anchor="middle" font-weight="normal" font-style="normal" fill="#000" >VSV-M</text>
<text x="411.60" y="490.20" font-size="12" text-anchor="start" font-weight="bold" font-style="normal" fill="#000" >I</text>
<rect x="395.4" y="588.5" width="151.2" height="27.2" rx="3" fill="#ffc000"/>
<rect x="423.2" y="590" width="17.8" height="26.6" rx="2.6" fill="#4ab5b5"/>
<text transform="translate(436.2,611.5) rotate(-90)" font-size="10.7">β<tspan font-size="7.5" dy="2">3-5</tspan></text>
<rect x="498.6" y="589.5" width="12" height="26.4" rx="1.5" fill="#00b0f0"/>
<text transform="translate(508.7,611.2) rotate(-90)" font-size="10.7">CD</text>
<text x="527.00" y="608.60" font-size="10.5" text-anchor="start" font-weight="bold" font-style="normal" fill="#000" >M</text>
<ellipse cx="431.5" cy="575.8" rx="34" ry="13.6" fill="#f2f2f2" stroke="#1fb41f" stroke-width="2.2"/>
<text x="431.30" y="580.00" font-size="10.5" text-anchor="middle" font-weight="normal" font-style="normal" fill="#000" >PDPK1</text>
<ellipse cx="507.3" cy="573.8" rx="40" ry="15" fill="#f2f2f2" stroke="#1616e6" stroke-width="2.1" stroke-dasharray="7.5,4"/>
<text x="507.00" y="578.00" font-size="10.5" text-anchor="middle" font-weight="normal" font-style="normal" fill="#d2d2d2" >SQSTM1</text>
<defs><marker id="ah" markerWidth="10" markerHeight="10" refX="6" refY="4.2" orient="auto" markerUnits="userSpaceOnUse"><path d="M0,0 L8.4,4.2 L0,8.4 Z" fill="#548235"/></marker></defs>
<path d="M434.4,551.5 C450,532 462,512.3 475.5,512.6 C486,513 493,519 500,525" fill="none" stroke="#548235" stroke-width="1.5" marker-end="url(#ah)"/>
<path d="M527.3,540.5 C540,528 548,516 558.5,516 C566,516.2 571,520 577.5,524.5" fill="none" stroke="#548235" stroke-width="1.5" marker-end="url(#ah)"/>
<ellipse cx="516.2" cy="530.7" rx="12.4" ry="7.5" fill="#c00000"/>
<text x="516.20" y="532.90" font-size="10.5" text-anchor="middle" font-weight="normal" font-style="normal" fill="#fff" >p</text>
<ellipse cx="592.5" cy="525.7" rx="12.3" ry="7.3" fill="#c00000"/>
<text x="592.50" y="527.90" font-size="10.5" text-anchor="middle" font-weight="normal" font-style="normal" fill="#fff" >p</text>
<ellipse cx="407.3" cy="647" rx="10.7" ry="6.5" fill="#c00000"/>
<text x="407.30" y="649.20" font-size="10.5" text-anchor="middle" font-weight="normal" font-style="normal" fill="#fff" >p</text>
<text x="423.30" y="652.00" font-size="10.7" text-anchor="start" font-weight="bold" font-style="normal" fill="#000" >T138 phosphorylation</text>
<text x="624.20" y="498.20" font-size="10.7" text-anchor="middle" font-weight="bold" font-style="normal" fill="#000" >Mitophagy</text>
<path d="M673.2,497.3 H683.9 V641.3 H647.4" fill="none" stroke="#548235" stroke-width="1.5"/>
<line x1="647.40" y1="634.50" x2="647.40" y2="648.70" stroke="#548235" stroke-width="1.5" />
<path d="M624.3,507.6 L634,516 L629.6,516 L629.6,523.5 L619.2,523.5 L619.2,516 L614.2,516 Z" fill="#548235" stroke="#2e75b6" stroke-width="1.2"/>
<defs><linearGradient id="tg" x1="0" y1="0" x2="0" y2="1"><stop offset="0" stop-color="#b9a3d9"/><stop offset="1" stop-color="#e4d9f0"/></linearGradient></defs>
<rect x="594.6" y="553.6" width="59.8" height="16.4" rx="1.5" fill="url(#tg)"/>
<text x="624.60" y="566.30" font-size="10.5" text-anchor="middle" font-weight="normal" font-style="normal" fill="#000" >TOMM22</text>
<ellipse cx="624.8" cy="541.2" rx="40.2" ry="12.3" fill="#deebf7" stroke="#0a0aee" stroke-width="2"/>
<text x="624.40" y="545.90" font-size="10.5" text-anchor="middle" font-weight="normal" font-style="normal" fill="#000" >SQSTM1</text>
<g id="mito">
<path d="M577,588.5 C577,577 597,569.6 625.5,569.6 C654,569.6 673.8,577 673.8,588.5 C673.8,599.5 655,610.6 625.5,610.6 C596,610.6 577,599.5 577,588.5 Z" fill="#c79183" stroke="#8c574b" stroke-width="0.9"/>
<path d="M578.5,593 C590,601.5 607,605.6 625.5,605.8 C644,605.6 661,601.5 672.5,593 C670,602 652,609.8 625.5,609.9 C599,609.8 581,602 578.5,593 Z" fill="#b27a6d"/>
<path d="M634,605.6 C650,604.6 664,600 672.3,593.4 C670,601.5 655,608.6 636,609.7 Z" fill="#93594d"/>
<path d="M582.3,588.5 C582.3,578.6 600,572.6 625.5,572.6 C651,572.6 668.7,578.6 668.7,588.5 C668.7,592.2 665,594.4 659,595.6 C649,597.6 640,598.6 625.5,598.6 C611,598.6 602,597.6 592,595.6 C586,594.4 582.3,592.2 582.3,588.5 Z" fill="#f3e1db" stroke="#9b6256" stroke-width="0.7"/>
<path d="M592.4,576.8 V584.5 a1.2,1.2 0 0 0 2.4,0 V576.8 Z" fill="#bd8678" stroke="#93594d" stroke-width="0.55"/>
<path d="M601.0,574.3 V589.8 a1.2,1.2 0 0 0 2.4,0 V574.3 Z" fill="#bd8678" stroke="#93594d" stroke-width="0.55"/>
<path d="M610.0999999999999,573.3 V591.8 a1.2,1.2 0 0 0 2.4,0 V573.3 Z" fill="#bd8678" stroke="#93594d" stroke-width="0.55"/>
<path d="M619.1999999999999,572.9 V592.8 a1.2,1.2 0 0 0 2.4,0 V572.9 Z" fill="#bd8678" stroke="#93594d" stroke-width="0.55"/>
<path d="M628.4,572.9 V592.8 a1.2,1.2 0 0 0 2.4,0 V572.9 Z" fill="#bd8678" stroke="#93594d" stroke-width="0.55"/>
<path d="M637.5999999999999,573.3 V592 a1.2,1.2 0 0 0 2.4,0 V573.3 Z" fill="#bd8678" stroke="#93594d" stroke-width="0.55"/>
<path d="M646.8,574.1 V590.2 a1.2,1.2 0 0 0 2.4,0 V574.1 Z" fill="#bd8678" stroke="#93594d" stroke-width="0.55"/>
<path d="M655.4,575.8 V586.5 a1.2,1.2 0 0 0 2.4,0 V575.8 Z" fill="#bd8678" stroke="#93594d" stroke-width="0.55"/>
<path d="M584.3,587 L592,585.4" stroke="#b07668" stroke-width="2.3" stroke-linecap="round"/>
<path d="M585.6,592 L594,590" stroke="#b07668" stroke-width="2.3" stroke-linecap="round"/>
<path d="M666.7,587 L659.4,585.6" stroke="#b07668" stroke-width="2.3" stroke-linecap="round"/>
<path d="M665.4,592 L657,590.2" stroke="#b07668" stroke-width="2.3" stroke-linecap="round"/>
</g>
<ellipse cx="627.6" cy="618.6" rx="36.6" ry="11" fill="#548235"/>
<text x="627.60" y="620.90" font-size="10.5" text-anchor="middle" font-weight="normal" font-style="normal" fill="#fff" >MAVS</text>
<line x1="633.00" y1="636.60" x2="633.00" y2="646.00" stroke="#ff0000" stroke-width="1.3" />
<path d="M629.2,644.5 L636.8,644.5 L633,653 Z" fill="#ff0000"/>
<text x="620.30" y="661.20" font-size="10.7" text-anchor="middle" font-weight="bold" font-style="normal" fill="#000" >IFN response</text>
</svg>
</body></html>
